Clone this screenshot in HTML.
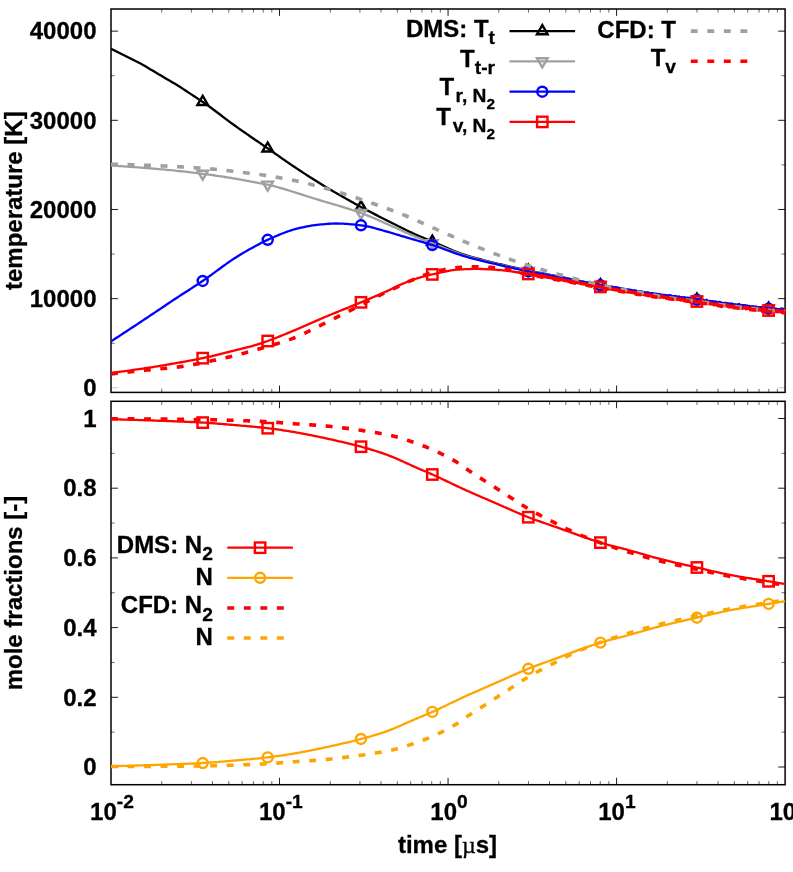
<!DOCTYPE html>
<html><head><meta charset="utf-8"><title>plot</title>
<style>html,body{margin:0;padding:0;background:#fff;overflow:hidden}svg{display:block;will-change:transform}text{font-family:"Liberation Sans",sans-serif;font-weight:bold;font-size:24px;fill:#000;stroke:#000;stroke-width:0.3px}</style></head><body>
<svg width="793" height="872" viewBox="0 0 793 872">
<rect width="793" height="872" fill="#fff"/>
<defs>
<clipPath id="c1"><rect x="111.00" y="9.00" width="675.30" height="383.40"/></clipPath>
<clipPath id="c2"><rect x="111.00" y="401.30" width="675.30" height="383.40"/></clipPath>
</defs>
<g id="top">
<path d="M161.73 392.40 v-3.6 M161.73 9.00 v3.6" stroke="#000" stroke-width="0.85" opacity="0.7"/>
<path d="M191.41 392.40 v-3.6 M191.41 9.00 v3.6" stroke="#000" stroke-width="0.85" opacity="0.7"/>
<path d="M212.46 392.40 v-3.6 M212.46 9.00 v3.6" stroke="#000" stroke-width="0.85" opacity="0.7"/>
<path d="M228.79 392.40 v-3.6 M228.79 9.00 v3.6" stroke="#000" stroke-width="0.85" opacity="0.7"/>
<path d="M242.14 392.40 v-3.6 M242.14 9.00 v3.6" stroke="#000" stroke-width="0.85" opacity="0.7"/>
<path d="M253.42 392.40 v-3.6 M253.42 9.00 v3.6" stroke="#000" stroke-width="0.85" opacity="0.7"/>
<path d="M263.19 392.40 v-3.6 M263.19 9.00 v3.6" stroke="#000" stroke-width="0.85" opacity="0.7"/>
<path d="M271.81 392.40 v-3.6 M271.81 9.00 v3.6" stroke="#000" stroke-width="0.85" opacity="0.7"/>
<path d="M279.52 392.40 v-6.9 M279.52 9.00 v6.9" stroke="#000" stroke-width="0.9"/>
<path d="M330.26 392.40 v-3.6 M330.26 9.00 v3.6" stroke="#000" stroke-width="0.85" opacity="0.7"/>
<path d="M359.93 392.40 v-3.6 M359.93 9.00 v3.6" stroke="#000" stroke-width="0.85" opacity="0.7"/>
<path d="M380.99 392.40 v-3.6 M380.99 9.00 v3.6" stroke="#000" stroke-width="0.85" opacity="0.7"/>
<path d="M397.32 392.40 v-3.6 M397.32 9.00 v3.6" stroke="#000" stroke-width="0.85" opacity="0.7"/>
<path d="M410.66 392.40 v-3.6 M410.66 9.00 v3.6" stroke="#000" stroke-width="0.85" opacity="0.7"/>
<path d="M421.95 392.40 v-3.6 M421.95 9.00 v3.6" stroke="#000" stroke-width="0.85" opacity="0.7"/>
<path d="M431.72 392.40 v-3.6 M431.72 9.00 v3.6" stroke="#000" stroke-width="0.85" opacity="0.7"/>
<path d="M440.34 392.40 v-3.6 M440.34 9.00 v3.6" stroke="#000" stroke-width="0.85" opacity="0.7"/>
<path d="M448.05 392.40 v-6.9 M448.05 9.00 v6.9" stroke="#000" stroke-width="0.9"/>
<path d="M498.78 392.40 v-3.6 M498.78 9.00 v3.6" stroke="#000" stroke-width="0.85" opacity="0.7"/>
<path d="M528.46 392.40 v-3.6 M528.46 9.00 v3.6" stroke="#000" stroke-width="0.85" opacity="0.7"/>
<path d="M549.51 392.40 v-3.6 M549.51 9.00 v3.6" stroke="#000" stroke-width="0.85" opacity="0.7"/>
<path d="M565.84 392.40 v-3.6 M565.84 9.00 v3.6" stroke="#000" stroke-width="0.85" opacity="0.7"/>
<path d="M579.19 392.40 v-3.6 M579.19 9.00 v3.6" stroke="#000" stroke-width="0.85" opacity="0.7"/>
<path d="M590.47 392.40 v-3.6 M590.47 9.00 v3.6" stroke="#000" stroke-width="0.85" opacity="0.7"/>
<path d="M600.24 392.40 v-3.6 M600.24 9.00 v3.6" stroke="#000" stroke-width="0.85" opacity="0.7"/>
<path d="M608.86 392.40 v-3.6 M608.86 9.00 v3.6" stroke="#000" stroke-width="0.85" opacity="0.7"/>
<path d="M616.58 392.40 v-6.9 M616.58 9.00 v6.9" stroke="#000" stroke-width="0.9"/>
<path d="M667.31 392.40 v-3.6 M667.31 9.00 v3.6" stroke="#000" stroke-width="0.85" opacity="0.7"/>
<path d="M696.98 392.40 v-3.6 M696.98 9.00 v3.6" stroke="#000" stroke-width="0.85" opacity="0.7"/>
<path d="M718.04 392.40 v-3.6 M718.04 9.00 v3.6" stroke="#000" stroke-width="0.85" opacity="0.7"/>
<path d="M734.37 392.40 v-3.6 M734.37 9.00 v3.6" stroke="#000" stroke-width="0.85" opacity="0.7"/>
<path d="M747.71 392.40 v-3.6 M747.71 9.00 v3.6" stroke="#000" stroke-width="0.85" opacity="0.7"/>
<path d="M759.00 392.40 v-3.6 M759.00 9.00 v3.6" stroke="#000" stroke-width="0.85" opacity="0.7"/>
<path d="M768.77 392.40 v-3.6 M768.77 9.00 v3.6" stroke="#000" stroke-width="0.85" opacity="0.7"/>
<path d="M777.39 392.40 v-3.6 M777.39 9.00 v3.6" stroke="#000" stroke-width="0.85" opacity="0.7"/>
<path d="M111.00 387.80 h6.9 M785.10 387.80 h-6.9" stroke="#000" stroke-width="0.9" opacity="0.25"/>
<path d="M111.00 298.64 h6.9 M785.10 298.64 h-6.9" stroke="#000" stroke-width="0.9"/>
<path d="M111.00 209.47 h6.9 M785.10 209.47 h-6.9" stroke="#000" stroke-width="0.9"/>
<path d="M111.00 120.31 h6.9 M785.10 120.31 h-6.9" stroke="#000" stroke-width="0.9"/>
<path d="M111.00 31.15 h6.9 M785.10 31.15 h-6.9" stroke="#000" stroke-width="0.9"/>
<path d="M111.00 343.22 h3.6 M785.10 343.22 h-3.6" stroke="#000" stroke-width="0.85" opacity="0.7"/>
<path d="M111.00 254.06 h3.6 M785.10 254.06 h-3.6" stroke="#000" stroke-width="0.85" opacity="0.7"/>
<path d="M111.00 164.89 h3.6 M785.10 164.89 h-3.6" stroke="#000" stroke-width="0.85" opacity="0.7"/>
<path d="M111.00 75.73 h3.6 M785.10 75.73 h-3.6" stroke="#000" stroke-width="0.85" opacity="0.7"/>
<rect x="111.00" y="9.00" width="674.10" height="383.40" fill="none" stroke="#000" stroke-width="1.5"/>
<path d="M111.00 48.70 L113.00 49.71 L115.00 50.71 L117.00 51.72 L119.00 52.73 L121.00 53.73 L123.00 54.74 L125.00 55.75 L127.00 56.75 L129.00 57.76 L131.00 58.77 L133.00 59.77 L135.00 60.78 L137.00 61.77 L139.00 62.76 L141.00 63.79 L143.00 64.90 L145.00 66.08 L147.00 67.30 L149.00 68.49 L151.00 69.68 L153.00 70.86 L155.00 72.04 L157.00 73.23 L159.00 74.41 L161.00 75.59 L163.00 76.77 L165.00 77.96 L167.00 79.14 L169.00 80.32 L171.00 81.51 L173.00 82.68 L175.00 83.84 L177.00 85.02 L179.00 86.25 L181.00 87.56 L183.00 88.90 L185.00 90.21 L187.00 91.53 L189.00 92.85 L191.00 94.16 L193.00 95.48 L195.00 96.80 L197.00 98.11 L199.00 99.42 L201.00 100.73 L203.00 102.08 L205.00 103.47 L207.00 104.89 L209.00 106.33 L211.00 107.79 L213.00 109.27 L215.00 110.77 L217.00 112.27 L219.00 113.78 L221.00 115.29 L223.00 116.81 L225.00 118.32 L227.00 119.83 L229.00 121.33 L231.00 122.82 L233.00 124.29 L235.00 125.74 L237.00 127.17 L239.00 128.59 L241.00 130.00 L243.00 131.40 L245.00 132.79 L247.00 134.18 L249.00 135.56 L251.00 136.93 L253.00 138.30 L255.00 139.68 L257.00 141.05 L259.00 142.41 L261.00 143.79 L263.00 145.16 L265.00 146.53 L267.00 147.92 L269.00 149.30 L271.00 150.70 L273.00 152.10 L275.00 153.50 L277.00 154.91 L279.00 156.31 L281.00 157.71 L283.00 159.12 L285.00 160.51 L287.00 161.90 L289.00 163.27 L291.00 164.64 L293.00 166.00 L295.00 167.33 L297.00 168.66 L299.00 169.98 L301.00 171.29 L303.00 172.60 L305.00 173.90 L307.00 175.19 L309.00 176.48 L311.00 177.75 L313.00 179.02 L315.00 180.28 L317.00 181.53 L319.00 182.77 L321.00 184.00 L323.00 185.23 L325.00 186.44 L327.00 187.64 L329.00 188.83 L331.00 190.02 L333.00 191.20 L335.00 192.37 L337.00 193.53 L339.00 194.69 L341.00 195.83 L343.00 196.97 L345.00 198.11 L347.00 199.24 L349.00 200.36 L351.00 201.47 L353.00 202.58 L355.00 203.68 L357.00 204.78 L359.00 205.87 L361.00 206.95 L363.00 208.03 L365.00 209.10 L367.00 210.17 L369.00 211.22 L371.00 212.28 L373.00 213.32 L375.00 214.36 L377.00 215.39 L379.00 216.42 L381.00 217.45 L383.00 218.47 L385.00 219.48 L387.00 220.49 L389.00 221.50 L391.00 222.50 L393.00 223.50 L395.00 224.50 L397.00 225.50 L399.00 226.49 L401.00 227.49 L403.00 228.48 L405.00 229.47 L407.00 230.44 L409.00 231.41 L411.00 232.36 L413.00 233.29 L415.00 234.20 L417.00 235.09 L419.00 235.96 L421.00 236.81 L423.00 237.65 L425.00 238.48 L427.00 239.31 L429.00 240.13 L431.00 240.96 L433.00 241.79 L435.00 242.64 L437.00 243.50 L439.00 244.37 L441.00 245.25 L443.00 246.13 L445.00 247.01 L447.00 247.88 L449.00 248.75 L451.00 249.60 L453.00 250.44 L455.00 251.26 L457.00 252.05 L459.00 252.82 L461.00 253.56 L463.00 254.26 L465.00 254.93 L467.00 255.57 L469.00 256.18 L471.00 256.77 L473.00 257.33 L475.00 257.89 L477.00 258.43 L479.00 258.95 L481.00 259.47 L483.00 259.99 L485.00 260.50 L487.00 261.02 L489.00 261.54 L491.00 262.04 L493.00 262.55 L495.00 263.04 L497.00 263.53 L499.00 264.01 L501.00 264.49 L503.00 264.96 L505.00 265.43 L507.00 265.89 L509.00 266.35 L511.00 266.80 L513.00 267.24 L515.00 267.68 L517.00 268.11 L519.00 268.54 L521.00 268.97 L523.00 269.40 L525.00 269.82 L527.00 270.24 L529.00 270.66 L531.00 271.07 L533.00 271.48 L535.00 271.89 L537.00 272.29 L539.00 272.70 L541.00 273.10 L543.00 273.50 L545.00 273.90 L547.00 274.29 L549.00 274.68 L551.00 275.08 L553.00 275.47 L555.00 275.86 L557.00 276.25 L559.00 276.64 L561.00 277.04 L563.00 277.44 L565.00 277.84 L567.00 278.25 L569.00 278.66 L571.00 279.08 L573.00 279.50 L575.00 279.92 L577.00 280.35 L579.00 280.77 L581.00 281.20 L583.00 281.62 L585.00 282.03 L587.00 282.44 L589.00 282.85 L591.00 283.24 L593.00 283.63 L595.00 284.01 L597.00 284.38 L599.00 284.75 L601.00 285.11 L603.00 285.46 L605.00 285.82 L607.00 286.17 L609.00 286.53 L611.00 286.88 L613.00 287.23 L615.00 287.58 L617.00 287.93 L619.00 288.28 L621.00 288.63 L623.00 288.97 L625.00 289.31 L627.00 289.65 L629.00 289.98 L631.00 290.32 L633.00 290.65 L635.00 290.98 L637.00 291.30 L639.00 291.62 L641.00 291.94 L643.00 292.25 L645.00 292.56 L647.00 292.86 L649.00 293.16 L651.00 293.46 L653.00 293.75 L655.00 294.04 L657.00 294.31 L659.00 294.59 L661.00 294.86 L663.00 295.13 L665.00 295.39 L667.00 295.65 L669.00 295.91 L671.00 296.16 L673.00 296.42 L675.00 296.67 L677.00 296.92 L679.00 297.17 L681.00 297.43 L683.00 297.68 L685.00 297.93 L687.00 298.19 L689.00 298.45 L691.00 298.71 L693.00 298.97 L695.00 299.24 L697.00 299.51 L699.00 299.79 L701.00 300.07 L703.00 300.35 L705.00 300.64 L707.00 300.94 L709.00 301.23 L711.00 301.53 L713.00 301.82 L715.00 302.11 L717.00 302.40 L719.00 302.69 L721.00 302.97 L723.00 303.25 L725.00 303.53 L727.00 303.79 L729.00 304.05 L731.00 304.30 L733.00 304.54 L735.00 304.79 L737.00 305.03 L739.00 305.26 L741.00 305.50 L743.00 305.73 L745.00 305.96 L747.00 306.19 L749.00 306.41 L751.00 306.64 L753.00 306.85 L755.00 307.07 L757.00 307.28 L759.00 307.48 L761.00 307.68 L763.00 307.88 L765.00 308.08 L767.00 308.27 L769.00 308.45 L771.00 308.64 L773.00 308.81 L775.00 308.98 L777.00 309.15 L779.00 309.31 L781.00 309.47 L783.00 309.62 L785.00 309.77 L785.10 309.78" fill="none" stroke="#000000" stroke-width="2.3" stroke-linejoin="round" clip-path="url(#c1)"/>
<path d="M202.70 95.97 L208.00 104.97 L197.40 104.97 Z" fill="none" stroke="#000000" stroke-width="2.4" stroke-linejoin="miter"/>
<path d="M267.70 142.50 L273.00 151.50 L262.40 151.50 Z" fill="none" stroke="#000000" stroke-width="2.4" stroke-linejoin="miter"/>
<path d="M361.00 201.05 L366.30 210.05 L355.70 210.05 Z" fill="none" stroke="#000000" stroke-width="2.4" stroke-linejoin="miter"/>
<path d="M432.30 235.60 L437.60 244.60 L427.00 244.60 Z" fill="none" stroke="#000000" stroke-width="2.4" stroke-linejoin="miter"/>
<path d="M528.30 264.61 L533.60 273.61 L523.00 273.61 Z" fill="none" stroke="#000000" stroke-width="2.4" stroke-linejoin="miter"/>
<path d="M600.40 279.10 L605.70 288.10 L595.10 288.10 Z" fill="none" stroke="#000000" stroke-width="2.4" stroke-linejoin="miter"/>
<path d="M696.90 293.60 L702.20 302.60 L691.60 302.60 Z" fill="none" stroke="#000000" stroke-width="2.4" stroke-linejoin="miter"/>
<path d="M768.60 302.52 L773.90 311.52 L763.30 311.52 Z" fill="none" stroke="#000000" stroke-width="2.4" stroke-linejoin="miter"/>
<path d="M111.00 165.60 L113.00 165.71 L115.00 165.83 L117.00 165.95 L119.00 166.07 L121.00 166.20 L123.00 166.32 L125.00 166.46 L127.00 166.59 L129.00 166.73 L131.00 166.87 L133.00 167.02 L135.00 167.16 L137.00 167.31 L139.00 167.47 L141.00 167.62 L143.00 167.78 L145.00 167.94 L147.00 168.10 L149.00 168.26 L151.00 168.43 L153.00 168.60 L155.00 168.77 L157.00 168.94 L159.00 169.11 L161.00 169.29 L163.00 169.47 L165.00 169.65 L167.00 169.84 L169.00 170.03 L171.00 170.22 L173.00 170.42 L175.00 170.63 L177.00 170.83 L179.00 171.04 L181.00 171.26 L183.00 171.47 L185.00 171.69 L187.00 171.92 L189.00 172.15 L191.00 172.38 L193.00 172.61 L195.00 172.85 L197.00 173.09 L199.00 173.34 L201.00 173.59 L203.00 173.84 L205.00 174.10 L207.00 174.36 L209.00 174.64 L211.00 174.91 L213.00 175.20 L215.00 175.49 L217.00 175.78 L219.00 176.08 L221.00 176.39 L223.00 176.70 L225.00 177.01 L227.00 177.33 L229.00 177.65 L231.00 177.97 L233.00 178.30 L235.00 178.63 L237.00 178.97 L239.00 179.31 L241.00 179.67 L243.00 180.04 L245.00 180.41 L247.00 180.79 L249.00 181.17 L251.00 181.55 L253.00 181.92 L255.00 182.30 L257.00 182.67 L259.00 183.02 L261.00 183.38 L263.00 183.75 L265.00 184.13 L267.00 184.55 L269.00 184.99 L271.00 185.46 L273.00 185.95 L275.00 186.47 L277.00 187.00 L279.00 187.55 L281.00 188.11 L283.00 188.69 L285.00 189.28 L287.00 189.88 L289.00 190.50 L291.00 191.12 L293.00 191.75 L295.00 192.39 L297.00 193.03 L299.00 193.67 L301.00 194.31 L303.00 194.96 L305.00 195.60 L307.00 196.24 L309.00 196.88 L311.00 197.51 L313.00 198.13 L315.00 198.75 L317.00 199.35 L319.00 199.95 L321.00 200.55 L323.00 201.14 L325.00 201.73 L327.00 202.32 L329.00 202.90 L331.00 203.49 L333.00 204.08 L335.00 204.67 L337.00 205.26 L339.00 205.86 L341.00 206.46 L343.00 207.07 L345.00 207.69 L347.00 208.32 L349.00 208.95 L351.00 209.60 L353.00 210.26 L355.00 210.93 L357.00 211.62 L359.00 212.32 L361.00 213.04 L363.00 213.78 L365.00 214.54 L367.00 215.32 L369.00 216.13 L371.00 216.96 L373.00 217.80 L375.00 218.65 L377.00 219.52 L379.00 220.40 L381.00 221.29 L383.00 222.18 L385.00 223.08 L387.00 223.98 L389.00 224.88 L391.00 225.78 L393.00 226.68 L395.00 227.57 L397.00 228.45 L399.00 229.36 L401.00 230.28 L403.00 231.20 L405.00 232.14 L407.00 233.06 L409.00 233.98 L411.00 234.88 L413.00 235.76 L415.00 236.60 L417.00 237.41 L419.00 238.20 L421.00 238.97 L423.00 239.73 L425.00 240.47 L427.00 241.21 L429.00 241.96 L431.00 242.71 L433.00 243.47 L435.00 244.24 L437.00 245.03 L439.00 245.83 L441.00 246.63 L443.00 247.44 L445.00 248.25 L447.00 249.05 L449.00 249.85 L451.00 250.64 L453.00 251.41 L455.00 252.17 L457.00 252.91 L459.00 253.63 L461.00 254.33 L463.00 254.99 L465.00 255.62 L467.00 256.23 L469.00 256.82 L471.00 257.38 L473.00 257.93 L475.00 258.46 L477.00 258.98 L479.00 259.50 L481.00 260.01 L483.00 260.51 L485.00 261.02 L487.00 261.52 L489.00 262.03 L491.00 262.54 L493.00 263.04 L495.00 263.54 L497.00 264.03 L499.00 264.52 L501.00 265.00 L503.00 265.47 L505.00 265.93 L507.00 266.39 L509.00 266.83 L511.00 267.27 L513.00 267.70 L515.00 268.13 L517.00 268.55 L519.00 268.97 L521.00 269.39 L523.00 269.80 L525.00 270.21 L527.00 270.62 L529.00 271.02 L531.00 271.42 L533.00 271.82 L535.00 272.21 L537.00 272.61 L539.00 273.00 L541.00 273.40 L543.00 273.79 L545.00 274.17 L547.00 274.56 L549.00 274.94 L551.00 275.32 L553.00 275.71 L555.00 276.09 L557.00 276.47 L559.00 276.86 L561.00 277.25 L563.00 277.64 L565.00 278.04 L567.00 278.44 L569.00 278.85 L571.00 279.27 L573.00 279.69 L575.00 280.11 L577.00 280.54 L579.00 280.97 L581.00 281.39 L583.00 281.81 L585.00 282.23 L587.00 282.64 L589.00 283.05 L591.00 283.44 L593.00 283.83 L595.00 284.21 L597.00 284.58 L599.00 284.95 L601.00 285.31 L603.00 285.66 L605.00 286.02 L607.00 286.37 L609.00 286.73 L611.00 287.08 L613.00 287.43 L615.00 287.78 L617.00 288.13 L619.00 288.48 L621.00 288.83 L623.00 289.17 L625.00 289.51 L627.00 289.85 L629.00 290.18 L631.00 290.52 L633.00 290.85 L635.00 291.18 L637.00 291.50 L639.00 291.82 L641.00 292.14 L643.00 292.45 L645.00 292.76 L647.00 293.06 L649.00 293.36 L651.00 293.66 L653.00 293.95 L655.00 294.24 L657.00 294.51 L659.00 294.79 L661.00 295.06 L663.00 295.33 L665.00 295.59 L667.00 295.85 L669.00 296.11 L671.00 296.36 L673.00 296.62 L675.00 296.87 L677.00 297.12 L679.00 297.37 L681.00 297.63 L683.00 297.88 L685.00 298.13 L687.00 298.39 L689.00 298.65 L691.00 298.91 L693.00 299.17 L695.00 299.44 L697.00 299.71 L699.00 299.99 L701.00 300.27 L703.00 300.55 L705.00 300.84 L707.00 301.14 L709.00 301.43 L711.00 301.73 L713.00 302.02 L715.00 302.31 L717.00 302.60 L719.00 302.89 L721.00 303.17 L723.00 303.45 L725.00 303.73 L727.00 303.99 L729.00 304.25 L731.00 304.50 L733.00 304.74 L735.00 304.99 L737.00 305.23 L739.00 305.46 L741.00 305.70 L743.00 305.93 L745.00 306.16 L747.00 306.39 L749.00 306.61 L751.00 306.84 L753.00 307.05 L755.00 307.27 L757.00 307.48 L759.00 307.68 L761.00 307.88 L763.00 308.08 L765.00 308.28 L767.00 308.47 L769.00 308.65 L771.00 308.84 L773.00 309.01 L775.00 309.18 L777.00 309.35 L779.00 309.51 L781.00 309.67 L783.00 309.82 L785.00 309.97 L785.10 309.98" fill="none" stroke="#a0a0a0" stroke-width="2.3" stroke-linejoin="round" clip-path="url(#c1)"/>
<path d="M202.70 179.70 L208.00 170.70 L197.40 170.70 Z" fill="none" stroke="#a0a0a0" stroke-width="2.4" stroke-linejoin="miter"/>
<path d="M267.70 190.60 L273.00 181.60 L262.40 181.60 Z" fill="none" stroke="#a0a0a0" stroke-width="2.4" stroke-linejoin="miter"/>
<path d="M361.00 218.94 L366.30 209.94 L355.70 209.94 Z" fill="none" stroke="#a0a0a0" stroke-width="2.4" stroke-linejoin="miter"/>
<path d="M432.30 249.10 L437.60 240.10 L427.00 240.10 Z" fill="none" stroke="#a0a0a0" stroke-width="2.4" stroke-linejoin="miter"/>
<path d="M528.30 276.78 L533.60 267.78 L523.00 267.78 Z" fill="none" stroke="#a0a0a0" stroke-width="2.4" stroke-linejoin="miter"/>
<path d="M600.40 291.10 L605.70 282.10 L595.10 282.10 Z" fill="none" stroke="#a0a0a0" stroke-width="2.4" stroke-linejoin="miter"/>
<path d="M696.90 305.60 L702.20 296.60 L691.60 296.60 Z" fill="none" stroke="#a0a0a0" stroke-width="2.4" stroke-linejoin="miter"/>
<path d="M768.60 314.52 L773.90 305.52 L763.30 305.52 Z" fill="none" stroke="#a0a0a0" stroke-width="2.4" stroke-linejoin="miter"/>
<path d="M111.00 341.40 L113.00 340.10 L115.00 338.79 L117.00 337.49 L119.00 336.18 L121.00 334.87 L123.00 333.56 L125.00 332.25 L127.00 330.94 L129.00 329.63 L131.00 328.31 L133.00 327.00 L135.00 325.68 L137.00 324.36 L139.00 323.04 L141.00 321.71 L143.00 320.39 L145.00 319.07 L147.00 317.74 L149.00 316.41 L151.00 315.07 L153.00 313.73 L155.00 312.39 L157.00 311.04 L159.00 309.70 L161.00 308.35 L163.00 307.01 L165.00 305.67 L167.00 304.32 L169.00 302.99 L171.00 301.65 L173.00 300.32 L175.00 299.00 L177.00 297.68 L179.00 296.37 L181.00 295.07 L183.00 293.78 L185.00 292.49 L187.00 291.21 L189.00 289.92 L191.00 288.63 L193.00 287.34 L195.00 286.04 L197.00 284.73 L199.00 283.41 L201.00 282.08 L203.00 280.73 L205.00 279.36 L207.00 277.96 L209.00 276.53 L211.00 275.09 L213.00 273.63 L215.00 272.16 L217.00 270.69 L219.00 269.21 L221.00 267.74 L223.00 266.28 L225.00 264.83 L227.00 263.41 L229.00 262.00 L231.00 260.62 L233.00 259.28 L235.00 257.97 L237.00 256.70 L239.00 255.46 L241.00 254.24 L243.00 253.05 L245.00 251.88 L247.00 250.74 L249.00 249.60 L251.00 248.49 L253.00 247.39 L255.00 246.30 L257.00 245.22 L259.00 244.14 L261.00 243.08 L263.00 242.05 L265.00 241.06 L267.00 240.12 L269.00 239.22 L271.00 238.32 L273.00 237.43 L275.00 236.55 L277.00 235.69 L279.00 234.84 L281.00 234.02 L283.00 233.22 L285.00 232.45 L287.00 231.71 L289.00 231.02 L291.00 230.36 L293.00 229.76 L295.00 229.20 L297.00 228.69 L299.00 228.19 L301.00 227.72 L303.00 227.26 L305.00 226.83 L307.00 226.43 L309.00 226.05 L311.00 225.72 L313.00 225.42 L315.00 225.16 L317.00 224.93 L319.00 224.70 L321.00 224.48 L323.00 224.27 L325.00 224.07 L327.00 223.89 L329.00 223.74 L331.00 223.62 L333.00 223.54 L335.00 223.50 L337.00 223.51 L339.00 223.54 L341.00 223.61 L343.00 223.70 L345.00 223.82 L347.00 223.95 L349.00 224.11 L351.00 224.28 L353.00 224.47 L355.00 224.67 L357.00 224.88 L359.00 225.09 L361.00 225.31 L363.00 225.57 L365.00 225.90 L367.00 226.28 L369.00 226.71 L371.00 227.19 L373.00 227.70 L375.00 228.24 L377.00 228.80 L379.00 229.37 L381.00 229.94 L383.00 230.51 L385.00 231.07 L387.00 231.62 L389.00 232.18 L391.00 232.77 L393.00 233.37 L395.00 233.99 L397.00 234.60 L399.00 235.20 L401.00 235.79 L403.00 236.38 L405.00 236.97 L407.00 237.56 L409.00 238.14 L411.00 238.73 L413.00 239.31 L415.00 239.90 L417.00 240.48 L419.00 241.06 L421.00 241.64 L423.00 242.21 L425.00 242.79 L427.00 243.38 L429.00 243.98 L431.00 244.59 L433.00 245.22 L435.00 245.88 L437.00 246.57 L439.00 247.27 L441.00 247.99 L443.00 248.72 L445.00 249.46 L447.00 250.21 L449.00 250.95 L451.00 251.69 L453.00 252.43 L455.00 253.15 L457.00 253.85 L459.00 254.53 L461.00 255.19 L463.00 255.82 L465.00 256.42 L467.00 256.99 L469.00 257.54 L471.00 258.07 L473.00 258.59 L475.00 259.10 L477.00 259.59 L479.00 260.08 L481.00 260.57 L483.00 261.05 L485.00 261.54 L487.00 262.03 L489.00 262.52 L491.00 263.01 L493.00 263.50 L495.00 263.98 L497.00 264.46 L499.00 264.94 L501.00 265.41 L503.00 265.88 L505.00 266.33 L507.00 266.78 L509.00 267.23 L511.00 267.67 L513.00 268.10 L515.00 268.53 L517.00 268.96 L519.00 269.38 L521.00 269.79 L523.00 270.20 L525.00 270.60 L527.00 271.00 L529.00 271.39 L531.00 271.78 L533.00 272.16 L535.00 272.54 L537.00 272.93 L539.00 273.31 L541.00 273.69 L543.00 274.07 L545.00 274.45 L547.00 274.83 L549.00 275.20 L551.00 275.58 L553.00 275.95 L555.00 276.33 L557.00 276.70 L559.00 277.08 L561.00 277.47 L563.00 277.85 L565.00 278.24 L567.00 278.64 L569.00 279.04 L571.00 279.45 L573.00 279.86 L575.00 280.27 L577.00 280.69 L579.00 281.11 L580.00 281.31 L580.12 281.34 L580.24 281.36 L580.36 281.39 L580.48 281.41 L580.60 281.45 L580.72 281.46 L580.84 281.50 L580.96 281.52 L581.08 281.52 L581.20 281.57 L581.32 281.58 L581.44 281.63 L581.56 281.64 L581.68 281.66 L581.80 281.71 L581.92 281.68 L582.04 281.74 L582.16 281.75 L582.28 281.75 L582.40 281.83 L582.52 281.84 L582.64 281.90 L582.76 281.89 L582.88 281.89 L583.00 281.99 L583.12 281.92 L583.24 281.93 L583.36 282.04 L583.48 282.02 L583.60 282.04 L583.72 282.13 L583.84 282.08 L583.96 282.19 L584.08 282.18 L584.20 282.16 L584.32 282.14 L584.44 282.19 L584.56 282.33 L584.68 282.26 L584.80 282.25 L584.92 282.29 L585.04 282.42 L585.16 282.32 L585.28 282.45 L585.40 282.36 L585.52 282.54 L585.64 282.48 L585.76 282.41 L585.88 282.61 L586.00 282.52 L586.12 282.62 L586.24 282.60 L586.36 282.53 L586.48 282.56 L586.60 282.59 L586.72 282.62 L586.84 282.61 L586.96 282.63 L587.08 282.88 L587.20 282.69 L587.32 282.82 L587.44 282.74 L587.56 282.79 L587.68 282.96 L587.80 283.03 L587.92 282.93 L588.04 282.82 L588.16 283.13 L588.28 282.88 L588.40 283.00 L588.52 283.07 L588.64 283.20 L588.76 283.20 L588.88 283.16 L589.00 283.12 L589.12 283.28 L589.24 283.32 L589.36 283.34 L589.48 283.32 L589.60 283.14 L589.72 283.23 L589.84 283.31 L589.96 283.34 L590.08 283.48 L590.20 283.29 L590.32 283.47 L590.44 283.39 L590.56 283.56 L590.68 283.37 L590.80 283.50 L590.92 283.38 L591.04 283.44 L591.16 283.75 L591.28 283.53 L591.40 283.78 L591.52 283.66 L591.64 283.48 L591.76 283.81 L591.88 283.53 L592.00 283.88 L592.12 283.55 L592.24 283.86 L592.36 283.66 L592.48 283.76 L592.60 284.05 L592.72 283.87 L592.84 283.97 L592.96 284.03 L593.08 283.77 L593.20 284.13 L593.32 284.18 L593.44 283.85 L593.56 284.06 L593.68 283.96 L593.80 284.20 L593.92 283.88 L594.04 284.13 L594.16 284.30 L594.28 284.29 L594.40 284.00 L594.52 284.39 L594.64 284.11 L594.76 284.42 L594.88 284.29 L595.00 284.13 L595.12 284.46 L595.24 284.52 L595.36 284.48 L595.48 284.65 L595.60 284.29 L595.72 284.30 L595.84 284.27 L595.96 284.51 L596.08 284.45 L596.20 284.45 L596.32 284.53 L596.44 284.44 L596.56 284.31 L596.68 284.60 L596.80 284.50 L596.92 284.64 L597.04 284.95 L597.16 284.52 L597.28 284.82 L597.40 284.85 L597.52 284.65 L597.64 284.78 L597.76 285.12 L597.88 284.74 L598.00 285.00 L598.12 285.10 L598.24 284.82 L598.36 285.25 L598.48 285.04 L598.60 284.98 L598.72 285.14 L598.84 284.99 L598.96 285.21 L599.08 284.94 L599.20 285.40 L599.32 285.14 L599.44 284.95 L599.56 285.11 L599.68 285.44 L599.80 285.40 L599.92 285.20 L600.04 285.12 L600.16 285.16 L600.28 285.63 L600.40 285.04 L600.52 285.62 L600.64 285.62 L600.76 285.13 L600.88 285.24 L601.00 285.42 L601.12 285.62 L601.24 285.80 L601.36 285.85 L601.48 285.34 L601.60 285.30 L601.72 285.51 L601.84 285.58 L601.96 285.68 L602.08 285.28 L602.20 285.71 L602.32 285.95 L602.44 285.97 L602.56 286.01 L602.68 286.04 L602.80 286.10 L602.92 285.39 L603.04 286.11 L603.16 285.65 L603.28 285.71 L603.40 285.85 L603.52 286.28 L603.64 285.94 L603.76 285.75 L603.88 285.79 L604.00 286.26 L604.12 286.26 L604.24 285.71 L604.36 285.82 L604.48 285.95 L604.60 285.82 L604.72 286.14 L604.84 285.86 L604.96 286.19 L605.08 286.47 L605.20 286.41 L605.32 285.77 L605.44 285.89 L605.56 286.17 L605.68 286.40 L605.80 286.19 L605.92 286.09 L606.04 286.13 L606.16 286.02 L606.28 286.65 L606.40 286.52 L606.52 286.25 L606.64 286.54 L606.76 286.39 L606.88 286.42 L607.00 286.32 L607.12 286.45 L607.24 286.95 L607.36 286.78 L607.48 286.84 L607.60 286.19 L607.72 286.57 L607.84 286.46 L607.96 286.27 L608.08 286.59 L608.20 286.29 L608.32 286.47 L608.44 286.99 L608.56 286.90 L608.68 286.94 L608.80 286.34 L608.92 286.54 L609.04 286.42 L609.16 286.52 L609.28 286.54 L609.40 287.38 L609.52 287.34 L609.64 286.65 L609.76 286.72 L609.88 287.43 L610.00 287.04 L610.12 286.85 L610.24 286.98 L610.36 286.78 L610.48 287.14 L610.60 287.31 L610.72 287.10 L610.84 287.51 L610.96 286.77 L611.08 287.32 L611.20 287.76 L611.32 286.74 L611.44 287.14 L611.56 287.31 L611.68 287.01 L611.80 287.72 L611.92 287.20 L612.04 287.22 L612.16 287.71 L612.28 286.81 L612.40 287.80 L612.52 286.98 L612.64 287.28 L612.76 287.52 L612.88 287.52 L613.00 287.04 L613.12 287.38 L613.24 287.42 L613.36 288.14 L613.48 288.12 L613.60 287.75 L613.72 288.17 L613.84 288.11 L613.96 287.56 L614.08 287.27 L614.20 287.86 L614.32 287.54 L614.44 287.18 L614.56 288.38 L614.68 288.25 L614.80 287.75 L614.92 287.87 L615.04 287.95 L615.16 288.42 L615.28 287.87 L615.40 288.03 L615.52 287.61 L615.64 287.55 L615.76 287.92 L615.88 287.57 L616.00 287.34 L616.12 287.97 L616.24 288.48 L616.36 287.90 L616.48 288.67 L616.60 288.42 L616.72 288.38 L616.84 288.71 L616.96 287.67 L617.08 287.82 L617.20 288.79 L617.32 288.81 L617.44 287.75 L617.56 288.72 L617.68 287.74 L617.80 287.92 L617.92 287.91 L618.04 288.16 L618.16 288.31 L618.28 289.03 L618.40 288.42 L618.52 288.01 L618.64 288.23 L618.76 287.89 L618.88 287.94 L619.00 288.51 L619.12 288.65 L619.24 288.31 L619.36 288.51 L619.48 288.07 L619.60 288.86 L619.72 288.51 L619.84 288.20 L619.96 288.63 L620.08 288.25 L620.20 288.38 L620.32 288.17 L620.44 289.25 L620.56 288.57 L620.68 289.54 L620.80 288.79 L620.92 288.55 L621.04 289.35 L621.16 289.41 L621.28 289.63 L621.40 288.57 L621.52 289.51 L621.64 289.63 L621.76 288.87 L621.88 288.99 L622.00 289.25 L622.12 288.74 L622.24 289.64 L622.36 289.49 L622.48 289.74 L622.60 289.19 L622.72 289.30 L622.84 288.77 L622.96 288.96 L623.08 289.56 L623.20 289.90 L623.32 288.87 L623.44 288.75 L623.56 288.80 L623.68 289.33 L623.80 289.76 L623.92 288.98 L624.04 289.36 L624.16 289.43 L624.28 289.97 L624.40 289.05 L624.52 288.86 L624.64 289.57 L624.76 289.57 L624.88 289.50 L625.00 290.19 L625.12 290.09 L625.24 289.15 L625.36 289.82 L625.48 290.19 L625.60 290.36 L625.72 289.19 L625.84 290.34 L625.96 289.29 L626.08 290.20 L626.20 289.87 L626.32 290.39 L626.44 289.96 L626.56 289.19 L626.68 290.06 L626.80 289.50 L626.92 290.33 L627.04 289.23 L627.16 289.73 L627.28 290.24 L627.40 289.53 L627.52 290.24 L627.64 290.39 L627.76 290.46 L627.88 290.68 L628.00 290.06 L628.12 289.61 L628.24 289.80 L628.36 290.00 L628.48 289.55 L628.60 290.62 L628.72 289.74 L628.84 289.75 L628.96 291.00 L629.08 290.66 L629.20 289.91 L629.32 290.05 L629.44 290.75 L629.56 290.70 L629.68 290.23 L629.80 290.50 L629.92 291.09 L630.04 289.87 L630.16 291.28 L630.28 290.70 L630.40 290.19 L630.52 290.83 L630.64 289.83 L630.76 290.32 L630.88 290.57 L631.00 290.33 L631.12 291.25 L631.24 291.00 L631.36 290.27 L631.48 290.18 L631.60 290.08 L631.72 290.81 L631.84 290.29 L631.96 290.96 L632.08 291.37 L632.20 291.47 L632.32 290.43 L632.44 290.55 L632.56 290.69 L632.68 290.66 L632.80 290.73 L632.92 290.92 L633.04 291.35 L633.16 290.74 L633.28 290.81 L633.40 290.93 L633.52 290.62 L633.64 291.31 L633.76 291.00 L633.88 291.32 L634.00 291.20 L634.12 290.39 L634.24 290.43 L634.36 291.32 L634.48 291.03 L634.60 290.28 L634.72 291.16 L634.84 291.12 L634.96 291.69 L635.08 291.65 L635.20 291.92 L635.32 291.59 L635.44 291.91 L635.56 291.05 L635.68 291.14 L635.80 290.93 L635.92 292.08 L636.04 291.10 L636.16 291.67 L636.28 291.53 L636.40 291.97 L636.52 291.40 L636.64 291.07 L636.76 291.22 L636.88 290.77 L637.00 291.14 L637.12 291.62 L637.24 291.06 L637.36 292.39 L637.48 291.77 L637.60 291.46 L637.72 292.08 L637.84 291.12 L637.96 291.40 L638.08 292.28 L638.20 291.39 L638.32 292.10 L638.44 291.21 L638.56 291.86 L638.68 292.02 L638.80 291.41 L638.92 291.59 L639.04 291.92 L639.16 292.12 L639.28 291.53 L639.40 291.91 L639.52 292.75 L639.64 291.56 L639.76 292.23 L639.88 291.43 L640.00 291.81 L640.12 291.95 L640.24 292.08 L640.36 292.27 L640.48 292.40 L640.60 292.12 L640.72 292.28 L640.84 292.41 L640.96 291.65 L641.08 293.04 L641.20 292.63 L641.32 292.28 L641.44 292.18 L641.56 292.54 L641.68 292.38 L641.80 291.61 L641.92 292.35 L642.04 291.63 L642.16 292.13 L642.28 292.40 L642.40 292.53 L642.52 291.81 L642.64 291.67 L642.76 292.43 L642.88 292.79 L643.00 292.86 L643.12 292.27 L643.24 292.59 L643.36 292.81 L643.48 293.08 L643.60 292.56 L643.72 293.12 L643.84 292.35 L643.96 292.41 L644.08 292.53 L644.20 293.16 L644.32 293.39 L644.44 292.76 L644.56 293.09 L644.68 292.33 L644.80 292.87 L644.92 292.81 L645.04 292.82 L645.16 292.50 L645.28 293.13 L645.40 293.06 L645.52 293.03 L645.64 293.20 L645.76 292.82 L645.88 293.47 L646.00 293.10 L646.12 293.55 L646.24 292.91 L646.36 293.55 L646.48 292.87 L646.60 292.73 L646.72 293.93 L646.84 292.95 L646.96 292.52 L647.08 293.34 L647.20 293.80 L647.32 293.64 L647.44 293.97 L647.56 293.91 L647.68 293.26 L647.80 292.55 L647.92 292.34 L648.04 292.64 L648.16 293.16 L648.28 294.02 L648.40 292.77 L648.52 293.93 L648.64 293.87 L648.76 293.74 L648.88 292.97 L649.00 292.88 L649.12 293.86 L649.24 293.93 L649.36 293.57 L649.48 293.55 L649.60 293.13 L649.72 293.76 L649.84 293.56 L649.96 293.77 L650.08 293.56 L650.20 293.59 L650.32 294.15 L650.44 293.26 L650.56 293.94 L650.68 293.32 L650.80 293.56 L650.92 294.24 L651.04 293.64 L651.16 294.35 L651.28 293.95 L651.40 293.54 L651.52 293.51 L651.64 293.04 L651.76 293.85 L651.88 294.24 L652.00 293.40 L652.12 293.93 L652.24 294.66 L652.36 293.85 L652.48 294.63 L652.60 294.58 L652.72 294.13 L652.84 294.35 L652.96 293.57 L653.08 294.09 L653.20 294.45 L653.32 293.72 L653.44 293.49 L653.56 293.41 L653.68 293.61 L653.80 293.74 L653.92 294.55 L654.04 294.10 L654.16 294.22 L654.28 293.93 L654.40 293.92 L654.52 294.26 L654.64 294.55 L654.76 293.77 L654.88 294.15 L655.00 294.54 L655.12 295.00 L655.24 294.05 L655.36 294.24 L655.48 294.35 L655.60 293.77 L655.72 294.44 L655.84 294.97 L655.96 293.74 L656.08 294.05 L656.20 293.56 L656.32 294.13 L656.44 295.47 L656.56 294.89 L656.68 294.44 L656.80 294.60 L656.92 294.41 L657.04 294.75 L657.16 294.20 L657.28 294.27 L657.40 295.07 L657.52 294.10 L657.64 295.31 L657.76 294.64 L657.88 294.22 L658.00 294.86 L658.12 294.15 L658.24 294.01 L658.36 294.40 L658.48 294.99 L658.60 294.21 L658.72 294.72 L658.84 294.29 L658.96 294.74 L659.08 294.18 L659.20 295.09 L659.32 295.51 L659.44 294.68 L659.56 294.75 L659.68 295.10 L659.80 295.14 L659.92 294.21 L660.04 295.09 L660.16 295.30 L660.28 295.18 L660.40 294.70 L660.52 295.26 L660.64 294.89 L660.76 294.75 L660.88 294.91 L661.00 295.35 L661.12 295.31 L661.24 295.90 L661.36 295.80 L661.48 295.11 L661.60 295.39 L661.72 295.72 L661.84 295.28 L661.96 294.97 L662.08 295.99 L662.20 295.27 L662.32 295.09 L662.44 295.39 L662.56 295.11 L662.68 294.82 L662.80 295.38 L662.92 295.58 L663.04 295.06 L663.16 294.95 L663.28 295.40 L663.40 295.31 L663.52 295.38 L663.64 295.24 L663.76 296.00 L663.88 295.22 L664.00 295.01 L664.12 295.70 L664.24 295.77 L664.36 295.08 L664.48 295.00 L664.60 295.95 L664.72 296.44 L664.84 295.52 L664.96 295.94 L665.08 295.35 L665.20 296.04 L665.32 295.67 L665.44 295.56 L665.56 296.06 L665.68 295.90 L665.80 295.45 L665.92 295.77 L666.04 296.34 L666.16 296.13 L666.28 295.75 L666.40 295.97 L666.52 295.26 L666.64 295.65 L666.76 296.34 L666.88 295.37 L667.00 296.67 L667.12 296.50 L667.24 296.28 L667.36 295.86 L667.48 295.52 L667.60 295.82 L667.72 296.46 L667.84 296.03 L667.96 296.57 L668.08 295.77 L668.20 296.63 L668.32 296.70 L668.44 296.19 L668.56 295.48 L668.68 295.52 L668.80 295.31 L668.92 295.38 L669.04 296.35 L669.16 296.02 L669.28 296.42 L669.40 295.94 L669.52 296.04 L669.64 296.83 L669.76 296.98 L669.88 295.29 L670.00 296.25 L670.12 295.95 L670.24 295.19 L670.36 296.79 L670.48 296.34 L670.60 296.45 L670.72 297.34 L670.84 296.85 L670.96 295.90 L671.08 296.79 L671.20 295.87 L671.32 297.04 L671.44 296.65 L671.56 296.72 L671.68 295.87 L671.80 295.79 L671.92 296.42 L672.04 296.23 L672.16 296.86 L672.28 296.52 L672.40 296.70 L672.52 296.32 L672.64 296.87 L672.76 297.24 L672.88 296.29 L673.00 297.04 L673.12 296.18 L673.24 297.77 L673.36 297.26 L673.48 296.74 L673.60 297.67 L673.72 297.44 L673.84 296.42 L673.96 296.39 L674.08 296.60 L674.20 296.48 L674.32 297.11 L674.44 297.00 L674.56 296.26 L674.68 296.46 L674.80 297.26 L674.92 297.24 L675.04 296.79 L675.16 296.98 L675.28 297.52 L675.40 296.37 L675.52 296.62 L675.64 297.38 L675.76 296.43 L675.88 296.41 L676.00 296.48 L676.12 297.41 L676.24 296.52 L676.36 296.49 L676.48 297.25 L676.60 297.49 L676.72 297.50 L676.84 297.06 L676.96 297.75 L677.08 296.80 L677.20 297.22 L677.32 297.13 L677.44 297.40 L677.56 297.06 L677.68 297.01 L677.80 298.19 L677.92 297.26 L678.04 297.46 L678.16 298.06 L678.28 297.22 L678.40 297.32 L678.52 297.28 L678.64 296.61 L678.76 296.56 L678.88 297.43 L679.00 296.90 L679.12 296.51 L679.24 296.81 L679.36 297.39 L679.48 297.65 L679.60 297.31 L679.72 296.93 L679.84 297.81 L679.96 297.27 L680.08 298.06 L680.20 297.23 L680.32 298.34 L680.44 298.27 L680.56 297.90 L680.68 297.82 L680.80 298.03 L680.92 298.44 L681.04 298.31 L681.16 298.52 L681.28 297.69 L681.40 297.26 L681.52 297.74 L681.64 297.31 L681.76 298.07 L681.88 297.89 L682.00 297.59 L682.12 298.42 L682.24 297.78 L682.36 297.88 L682.48 298.03 L682.60 298.34 L682.72 297.45 L682.84 298.35 L682.96 297.94 L683.08 297.67 L683.20 297.64 L683.32 298.72 L683.44 298.68 L683.56 298.14 L683.68 297.87 L683.80 298.65 L683.92 297.33 L684.04 297.39 L684.16 298.02 L684.28 298.17 L684.40 297.37 L684.52 297.64 L684.64 297.51 L684.76 297.64 L684.88 297.56 L685.00 297.50 L685.12 297.52 L685.24 298.18 L685.36 297.86 L685.48 298.78 L685.60 298.27 L685.72 298.09 L685.84 298.85 L685.96 299.06 L686.08 298.48 L686.20 298.17 L686.32 299.09 L686.44 299.25 L686.56 299.46 L686.68 298.57 L686.80 298.42 L686.92 298.08 L687.04 297.96 L687.16 297.56 L687.28 298.63 L687.40 298.28 L687.52 297.92 L687.64 297.95 L687.76 298.19 L687.88 298.86 L688.00 298.12 L688.12 297.73 L688.24 298.20 L688.36 298.16 L688.48 298.68 L688.60 299.08 L688.72 298.98 L688.84 299.70 L688.96 299.53 L689.08 297.96 L689.20 298.14 L689.32 298.40 L689.44 297.93 L689.56 299.19 L689.68 299.21 L689.80 298.56 L689.92 299.44 L690.04 298.51 L690.16 298.07 L690.28 298.64 L690.40 298.72 L690.52 299.12 L690.64 299.49 L690.76 299.42 L690.88 298.74 L691.00 298.95 L691.12 298.40 L691.24 298.97 L691.36 298.64 L691.48 299.01 L691.60 300.00 L691.72 298.91 L691.84 299.07 L691.96 299.12 L692.08 299.00 L692.20 298.82 L692.32 299.37 L692.44 298.93 L692.56 298.90 L692.68 299.35 L692.80 298.79 L692.92 298.83 L693.04 299.19 L693.16 299.03 L693.28 299.14 L693.40 298.31 L693.52 298.82 L693.64 299.50 L693.76 299.43 L693.88 299.23 L694.00 299.33 L694.12 298.80 L694.24 298.82 L694.36 298.66 L694.48 299.85 L694.60 299.00 L694.72 300.00 L694.84 298.95 L694.96 300.07 L695.08 299.71 L695.20 299.05 L695.32 300.00 L695.44 300.07 L695.56 300.08 L695.68 300.10 L695.80 299.33 L695.92 299.47 L696.04 298.95 L696.16 299.77 L696.28 299.84 L696.40 299.56 L696.52 300.59 L696.64 299.61 L696.76 299.29 L696.88 299.67 L697.00 299.83 L697.12 299.17 L697.24 299.80 L697.36 300.57 L697.48 300.61 L697.60 300.82 L697.72 299.66 L697.84 300.46 L697.96 300.41 L698.08 300.55 L698.20 300.36 L698.32 300.26 L698.44 300.11 L698.56 300.56 L698.68 299.57 L698.80 300.21 L698.92 300.40 L699.04 300.39 L699.16 299.56 L699.28 299.83 L699.40 300.71 L699.52 300.51 L699.64 299.67 L699.76 300.15 L699.88 300.62 L700.00 300.71 L700.12 300.01 L700.24 299.44 L700.36 299.62 L700.48 299.36 L700.60 300.08 L700.72 299.95 L700.84 300.87 L700.96 300.88 L701.08 300.37 L701.20 301.00 L701.32 299.99 L701.44 300.07 L701.56 300.85 L701.68 300.75 L701.80 300.20 L701.92 301.31 L702.04 300.64 L702.16 300.64 L702.28 300.33 L702.40 300.67 L702.52 300.21 L702.64 300.54 L702.76 301.03 L702.88 301.00 L703.00 300.39 L703.12 299.75 L703.24 300.14 L703.36 301.09 L703.48 302.61 L703.60 302.46 L703.72 301.42 L703.84 301.45 L703.96 300.11 L704.08 300.99 L704.20 300.13 L704.32 300.18 L704.44 300.34 L704.56 301.02 L704.68 300.75 L704.80 301.23 L704.92 300.67 L705.04 300.65 L705.16 301.78 L705.28 300.77 L705.40 301.73 L705.52 301.60 L705.64 301.06 L705.76 301.15 L705.88 301.09 L706.00 300.10 L706.12 301.43 L706.24 300.17 L706.36 300.03 L706.48 300.71 L706.60 300.00 L706.72 301.25 L706.84 300.57 L706.96 300.08 L707.08 300.23 L707.20 300.78 L707.32 301.41 L707.44 300.56 L707.56 300.78 L707.68 301.04 L707.80 301.25 L707.92 301.36 L708.04 300.82 L708.16 300.91 L708.28 301.86 L708.40 301.92 L708.52 301.26 L708.64 302.09 L708.76 301.41 L708.88 302.33 L709.00 302.47 L709.12 302.01 L709.24 302.22 L709.36 301.35 L709.48 302.47 L709.60 302.26 L709.72 301.49 L709.84 301.51 L709.96 300.94 L710.08 301.92 L710.20 301.93 L710.32 302.06 L710.44 301.46 L710.56 302.12 L710.68 301.73 L710.80 302.48 L710.92 301.47 L711.04 301.62 L711.16 301.96 L711.28 302.25 L711.40 302.92 L711.52 301.73 L711.64 301.91 L711.76 301.20 L711.88 301.70 L712.00 301.60 L712.12 301.20 L712.24 301.66 L712.36 301.49 L712.48 301.39 L712.60 302.49 L712.72 301.99 L712.84 303.03 L712.96 302.03 L713.08 303.39 L713.20 302.25 L713.32 303.37 L713.44 302.14 L713.56 301.28 L713.68 301.42 L713.80 302.29 L713.92 301.65 L714.04 302.71 L714.16 303.28 L714.28 302.40 L714.40 303.13 L714.52 302.86 L714.64 302.55 L714.76 303.61 L714.88 302.86 L715.00 301.99 L715.12 302.57 L715.24 302.81 L715.36 301.95 L715.48 301.31 L715.60 302.49 L715.72 301.76 L715.84 301.93 L715.96 302.23 L716.08 302.76 L716.20 302.22 L716.32 302.70 L716.44 302.49 L716.56 301.88 L716.68 302.50 L716.80 303.01 L716.92 302.92 L717.04 302.75 L717.16 302.25 L717.28 303.21 L717.40 301.92 L717.52 301.84 L717.64 301.92 L717.76 302.00 L717.88 303.55 L718.00 303.50 L718.12 303.76 L718.24 303.19 L718.36 303.43 L718.48 303.74 L718.60 304.38 L718.72 303.76 L718.84 302.73 L718.96 303.22 L719.08 303.11 L719.20 303.00 L719.32 302.43 L719.44 302.42 L719.56 301.87 L719.68 301.81 L719.80 302.39 L719.92 302.46 L720.04 303.21 L720.16 303.21 L720.28 302.67 L720.40 303.81 L720.52 303.27 L720.64 303.42 L720.76 303.16 L720.88 304.27 L721.00 303.20 L721.12 303.40 L721.24 303.52 L721.36 303.58 L721.48 303.65 L721.60 304.23 L721.72 302.62 L721.84 303.53 L721.96 303.20 L722.08 303.75 L722.20 302.86 L722.32 303.08 L722.44 303.17 L722.56 303.07 L722.68 303.17 L722.80 303.75 L722.92 304.10 L723.04 304.12 L723.16 304.48 L723.28 303.78 L723.40 303.23 L723.52 304.25 L723.64 303.18 L723.76 303.72 L723.88 302.89 L724.00 303.34 L724.12 303.97 L724.24 303.28 L724.36 303.56 L724.48 303.34 L724.60 304.37 L724.72 304.22 L724.84 304.05 L724.96 303.90 L725.08 304.38 L725.20 303.39 L725.32 304.03 L725.44 303.18 L725.56 303.58 L725.68 303.00 L725.80 302.75 L725.92 304.03 L726.04 303.76 L726.16 304.77 L726.28 304.36 L726.40 304.36 L726.52 303.67 L726.64 304.14 L726.76 303.08 L726.88 304.16 L727.00 304.37 L727.12 304.07 L727.24 305.24 L727.36 304.11 L727.48 303.73 L727.60 304.25 L727.72 303.48 L727.84 304.12 L727.96 304.58 L728.08 304.67 L728.20 303.92 L728.32 304.71 L728.44 304.43 L728.56 303.47 L728.68 304.63 L728.80 304.63 L728.92 304.21 L729.04 305.11 L729.16 305.10 L729.28 303.97 L729.40 304.63 L729.52 304.95 L729.64 304.77 L729.76 303.81 L729.88 304.51 L730.00 304.75 L730.12 304.49 L730.24 304.53 L730.36 303.61 L730.48 303.50 L730.60 303.93 L730.72 304.11 L730.84 304.00 L730.96 304.55 L731.08 303.35 L731.20 303.73 L731.32 305.01 L731.44 304.96 L731.56 303.98 L731.68 304.78 L731.80 303.95 L731.92 305.16 L732.04 304.22 L732.16 304.72 L732.28 304.08 L732.40 304.15 L732.52 303.75 L732.64 303.97 L732.76 304.20 L732.88 304.68 L733.00 304.43 L733.12 304.68 L733.24 304.22 L733.36 304.42 L733.48 304.87 L733.60 304.26 L733.72 305.01 L733.84 305.12 L733.96 305.04 L734.08 304.87 L734.20 304.45 L734.32 304.87 L734.44 304.48 L734.56 305.08 L734.68 305.56 L734.80 305.46 L734.92 305.45 L735.04 304.66 L735.16 305.46 L735.28 305.72 L735.40 306.24 L735.52 305.63 L735.64 304.64 L735.76 305.91 L735.88 305.02 L736.00 304.63 L736.12 305.36 L736.24 305.63 L736.36 305.31 L736.48 304.87 L736.60 305.52 L736.72 304.91 L736.84 305.85 L736.96 306.16 L737.08 304.61 L737.20 305.36 L737.32 305.74 L737.44 305.49 L737.56 304.64 L737.68 304.54 L737.80 305.10 L737.92 304.54 L738.04 306.24 L738.16 305.81 L738.28 305.54 L738.40 306.19 L738.52 305.49 L738.64 305.92 L738.76 305.93 L738.88 305.38 L739.00 304.79 L739.12 304.66 L739.24 303.98 L739.36 304.31 L739.48 305.26 L739.60 306.15 L739.72 305.79 L739.84 306.19 L739.96 305.89 L740.08 305.93 L740.20 305.27 L740.32 306.04 L740.44 305.25 L740.56 305.95 L740.68 305.80 L740.80 305.53 L740.92 305.80 L741.04 306.41 L741.16 306.46 L741.28 306.56 L741.40 305.00 L741.52 305.27 L741.64 305.72 L741.76 306.14 L741.88 305.84 L742.00 306.79 L742.12 306.91 L742.24 305.68 L742.36 306.03 L742.48 305.58 L742.60 305.23 L742.72 305.36 L742.84 305.63 L742.96 305.16 L743.08 306.12 L743.20 305.80 L743.32 306.12 L743.44 306.86 L743.56 307.01 L743.68 306.31 L743.80 305.53 L743.92 305.96 L744.04 305.70 L744.16 306.39 L744.28 305.79 L744.40 305.58 L744.52 305.43 L744.64 305.67 L744.76 305.20 L744.88 306.35 L745.00 306.04 L745.12 305.92 L745.24 306.53 L745.36 306.08 L745.48 306.22 L745.60 305.47 L745.72 306.31 L745.84 306.78 L745.96 307.10 L746.08 306.34 L746.20 306.54 L746.32 306.31 L746.44 306.34 L746.56 306.75 L746.68 306.55 L746.80 306.65 L746.92 306.08 L747.04 305.34 L747.16 305.69 L747.28 306.24 L747.40 306.63 L747.52 305.55 L747.64 308.01 L747.76 308.09 L747.88 307.00 L748.00 308.16 L748.12 306.46 L748.24 306.83 L748.36 306.60 L748.48 306.62 L748.60 306.81 L748.72 306.67 L748.84 306.19 L748.96 306.17 L749.08 307.55 L749.20 306.58 L749.32 306.75 L749.44 306.44 L749.56 306.21 L749.68 306.57 L749.80 306.03 L749.92 306.37 L750.04 306.80 L750.16 306.50 L750.28 307.04 L750.40 306.71 L750.52 306.96 L750.64 307.54 L750.76 307.31 L750.88 307.18 L751.00 306.83 L751.12 308.00 L751.24 306.87 L751.36 307.18 L751.48 307.00 L751.60 307.50 L751.72 306.62 L751.84 306.38 L751.96 307.83 L752.08 308.19 L752.20 307.50 L752.32 308.28 L752.44 306.75 L752.56 307.55 L752.68 306.33 L752.80 307.29 L752.92 307.55 L753.04 306.72 L753.16 307.53 L753.28 307.19 L753.40 306.91 L753.52 306.53 L753.64 307.41 L753.76 307.02 L753.88 307.15 L754.00 306.68 L754.12 306.44 L754.24 306.57 L754.36 307.67 L754.48 306.97 L754.60 307.22 L754.72 307.64 L754.84 307.11 L754.96 307.40 L755.08 307.33 L755.20 307.86 L755.32 306.92 L755.44 306.77 L755.56 307.76 L755.68 306.64 L755.80 307.69 L755.92 307.68 L756.04 307.31 L756.16 307.87 L756.28 307.61 L756.40 307.23 L756.52 307.03 L756.64 306.75 L756.76 307.81 L756.88 307.98 L757.00 307.01 L757.12 307.07 L757.24 307.72 L757.36 307.92 L757.48 308.02 L757.60 307.93 L757.72 308.28 L757.84 308.21 L757.96 307.37 L758.08 308.05 L758.20 308.07 L758.32 307.51 L758.44 307.45 L758.56 307.69 L758.68 308.29 L758.80 307.55 L758.92 308.60 L759.04 308.55 L759.16 308.01 L759.28 308.05 L759.40 307.96 L759.52 308.30 L759.64 308.45 L759.76 307.66 L759.88 308.42 L760.00 307.39 L760.12 307.26 L760.24 307.64 L760.36 307.16 L760.48 307.12 L760.60 307.84 L760.72 307.39 L760.84 307.90 L760.96 307.25 L761.08 307.79 L761.20 308.63 L761.32 308.21 L761.44 307.58 L761.56 308.24 L761.68 307.81 L761.80 307.77 L761.92 308.48 L762.04 308.15 L762.16 308.30 L762.28 308.12 L762.40 308.18 L762.52 307.51 L762.64 307.13 L762.76 307.35 L762.88 307.53 L763.00 308.09 L763.12 308.02 L763.24 308.05 L763.36 309.17 L763.48 308.42 L763.60 308.58 L763.72 309.00 L763.84 309.06 L763.96 309.49 L764.08 309.78 L764.20 309.29 L764.32 308.79 L764.44 308.53 L764.56 308.31 L764.68 308.85 L764.80 308.04 L764.92 308.57 L765.04 307.65 L765.16 308.19 L765.28 308.15 L765.40 307.21 L765.52 308.24 L765.64 308.26 L765.76 307.46 L765.88 308.42 L766.00 308.70 L766.12 308.26 L766.24 307.97 L766.36 308.29 L766.48 307.90 L766.60 308.16 L766.72 308.30 L766.84 307.83 L766.96 308.36 L767.08 308.15 L767.20 308.28 L767.32 307.91 L767.44 308.56 L767.56 307.74 L767.68 308.22 L767.80 308.05 L767.92 307.32 L768.04 308.44 L768.16 308.11 L768.28 308.03 L768.40 309.12 L768.52 308.94 L768.64 309.24 L768.76 309.11 L768.88 308.87 L769.00 309.29 L769.12 308.69 L769.24 308.96 L769.36 308.86 L769.48 308.83 L769.60 309.71 L769.72 308.76 L769.84 308.77 L769.96 308.61 L770.08 308.54 L770.20 308.88 L770.32 309.90 L770.44 309.61 L770.56 309.26 L770.68 309.44 L770.80 309.79 L770.92 309.14 L771.04 309.03 L771.16 308.28 L771.28 308.27 L771.40 308.80 L771.52 308.90 L771.64 309.36 L771.76 309.14 L771.88 308.92 L772.00 308.43 L772.12 309.11 L772.24 309.01 L772.36 308.56 L772.48 308.89 L772.60 309.22 L772.72 308.39 L772.84 308.78 L772.96 309.33 L773.08 308.78 L773.20 308.69 L773.32 309.81 L773.44 309.72 L773.56 308.44 L773.68 309.20 L773.80 309.31 L773.92 309.42 L774.04 309.92 L774.16 309.86 L774.28 309.93 L774.40 309.96 L774.52 309.46 L774.64 309.59 L774.76 309.75 L774.88 310.66 L775.00 309.38 L775.12 309.59 L775.24 310.10 L775.36 308.89 L775.48 308.79 L775.60 308.92 L775.72 309.83 L775.84 309.55 L775.96 308.76 L776.08 308.69 L776.20 308.84 L776.32 309.89 L776.44 309.26 L776.56 309.90 L776.68 309.88 L776.80 310.05 L776.92 309.70 L777.04 309.34 L777.16 309.68 L777.28 310.22 L777.40 309.79 L777.52 309.03 L777.64 309.16 L777.76 309.61 L777.88 309.58 L778.00 309.37 L778.12 309.44 L778.24 309.73 L778.36 309.07 L778.48 309.82 L778.60 309.69 L778.72 310.07 L778.84 310.34 L778.96 309.94 L779.08 309.57 L779.20 309.65 L779.32 310.70 L779.44 310.35 L779.56 309.62 L779.68 310.18 L779.80 310.72 L779.92 310.78 L780.04 310.84 L780.16 310.95 L780.28 309.60 L780.40 309.87 L780.52 309.05 L780.64 309.88 L780.76 309.20 L780.88 308.79 L781.00 308.86 L781.12 309.50 L781.24 308.70 L781.36 308.88 L781.48 308.93 L781.60 309.48 L781.72 309.25 L781.84 309.10 L781.96 309.26 L782.08 310.01 L782.20 308.64 L782.32 309.35 L782.44 309.29 L782.56 309.12 L782.68 309.00 L782.80 309.28 L782.92 308.62 L783.04 308.99 L783.16 309.65 L783.28 309.28 L783.40 309.82 L783.52 309.53 L783.64 308.94 L783.76 309.04 L783.88 309.33 L784.00 309.81 L784.12 310.68 L784.24 310.25 L784.36 309.64 L784.48 310.44 L784.60 311.36 L784.72 310.18 L784.84 310.60 L784.96 310.14 L785.08 310.07 L785.10 309.41" fill="none" stroke="#0000ff" stroke-width="2.3" stroke-linejoin="round" clip-path="url(#c1)"/>
<circle cx="202.70" cy="280.94" r="5.0" fill="none" stroke="#0000ff" stroke-width="2.4"/>
<circle cx="267.70" cy="239.80" r="5.0" fill="none" stroke="#0000ff" stroke-width="2.4"/>
<circle cx="361.00" cy="225.31" r="5.0" fill="none" stroke="#0000ff" stroke-width="2.4"/>
<circle cx="432.30" cy="245.00" r="5.0" fill="none" stroke="#0000ff" stroke-width="2.4"/>
<circle cx="528.30" cy="271.26" r="5.0" fill="none" stroke="#0000ff" stroke-width="2.4"/>
<circle cx="600.40" cy="285.30" r="5.0" fill="none" stroke="#0000ff" stroke-width="2.4"/>
<circle cx="696.90" cy="299.80" r="5.0" fill="none" stroke="#0000ff" stroke-width="2.4"/>
<circle cx="768.60" cy="308.72" r="5.0" fill="none" stroke="#0000ff" stroke-width="2.4"/>
<path d="M111.00 372.90 L113.00 372.66 L115.00 372.41 L117.00 372.15 L119.00 371.90 L121.00 371.64 L123.00 371.38 L125.00 371.11 L127.00 370.84 L129.00 370.56 L131.00 370.29 L133.00 370.01 L135.00 369.72 L137.00 369.44 L139.00 369.15 L141.00 368.85 L143.00 368.56 L145.00 368.26 L147.00 367.96 L149.00 367.65 L151.00 367.34 L153.00 367.02 L155.00 366.70 L157.00 366.38 L159.00 366.05 L161.00 365.71 L163.00 365.38 L165.00 365.04 L167.00 364.70 L169.00 364.35 L171.00 364.00 L173.00 363.66 L175.00 363.31 L177.00 362.95 L179.00 362.60 L181.00 362.25 L183.00 361.89 L185.00 361.54 L187.00 361.18 L189.00 360.81 L191.00 360.44 L193.00 360.07 L195.00 359.68 L197.00 359.29 L199.00 358.90 L201.00 358.49 L203.00 358.08 L205.00 357.65 L207.00 357.22 L209.00 356.77 L211.00 356.31 L213.00 355.85 L215.00 355.37 L217.00 354.89 L219.00 354.41 L221.00 353.92 L223.00 353.42 L225.00 352.92 L227.00 352.42 L229.00 351.91 L231.00 351.41 L233.00 350.91 L235.00 350.40 L237.00 349.90 L239.00 349.40 L241.00 348.90 L243.00 348.41 L245.00 347.90 L247.00 347.39 L249.00 346.87 L251.00 346.33 L253.00 345.78 L255.00 345.20 L257.00 344.60 L259.00 343.97 L261.00 343.32 L263.00 342.65 L265.00 341.96 L267.00 341.25 L269.00 340.53 L271.00 339.79 L273.00 339.04 L275.00 338.27 L277.00 337.48 L279.00 336.68 L281.00 335.88 L283.00 335.06 L285.00 334.23 L287.00 333.41 L289.00 332.57 L291.00 331.74 L293.00 330.90 L295.00 330.07 L297.00 329.23 L299.00 328.38 L301.00 327.53 L303.00 326.66 L305.00 325.79 L307.00 324.91 L309.00 324.03 L311.00 323.15 L313.00 322.27 L315.00 321.38 L317.00 320.51 L319.00 319.63 L321.00 318.76 L323.00 317.90 L325.00 317.05 L327.00 316.21 L329.00 315.38 L331.00 314.55 L333.00 313.73 L335.00 312.91 L337.00 312.10 L339.00 311.29 L341.00 310.48 L343.00 309.67 L345.00 308.87 L347.00 308.06 L349.00 307.25 L351.00 306.44 L353.00 305.63 L355.00 304.81 L357.00 303.99 L359.00 303.16 L361.00 302.33 L363.00 301.49 L365.00 300.65 L367.00 299.81 L369.00 298.97 L371.00 298.13 L373.00 297.28 L375.00 296.43 L377.00 295.57 L379.00 294.70 L381.00 293.83 L383.00 292.94 L385.00 292.04 L387.00 291.13 L389.00 290.18 L391.00 289.20 L393.00 288.21 L395.00 287.22 L397.00 286.26 L399.00 285.34 L401.00 284.47 L403.00 283.61 L405.00 282.76 L407.00 281.94 L409.00 281.14 L411.00 280.38 L413.00 279.67 L415.00 279.00 L417.00 278.38 L419.00 277.78 L421.00 277.20 L423.00 276.65 L425.00 276.13 L427.00 275.62 L429.00 275.14 L431.00 274.69 L433.00 274.25 L435.00 273.81 L437.00 273.36 L439.00 272.91 L441.00 272.46 L443.00 272.02 L445.00 271.60 L447.00 271.19 L449.00 270.82 L451.00 270.47 L453.00 270.16 L455.00 269.89 L457.00 269.66 L459.00 269.49 L461.00 269.38 L463.00 269.28 L465.00 269.19 L467.00 269.11 L469.00 269.04 L471.00 268.98 L473.00 268.93 L475.00 268.91 L477.00 268.90 L479.00 268.92 L481.00 268.98 L483.00 269.05 L485.00 269.14 L487.00 269.24 L489.00 269.35 L491.00 269.45 L493.00 269.57 L495.00 269.70 L497.00 269.85 L499.00 270.01 L501.00 270.19 L503.00 270.37 L505.00 270.57 L507.00 270.79 L509.00 271.04 L511.00 271.32 L512.00 271.47 L512.12 271.49 L512.24 271.51 L512.36 271.52 L512.48 271.53 L512.60 271.58 L512.72 271.56 L512.84 271.58 L512.96 271.61 L513.08 271.62 L513.20 271.62 L513.32 271.65 L513.44 271.66 L513.56 271.71 L513.68 271.75 L513.80 271.75 L513.92 271.71 L514.04 271.80 L514.16 271.84 L514.28 271.77 L514.40 271.84 L514.52 271.95 L514.64 271.94 L514.76 271.89 L514.88 271.87 L515.00 271.86 L515.12 271.85 L515.24 271.91 L515.36 271.99 L515.48 272.01 L515.60 271.95 L515.72 272.04 L515.84 272.06 L515.96 272.18 L516.08 272.24 L516.20 272.27 L516.32 272.15 L516.44 272.28 L516.56 272.23 L516.68 272.07 L516.80 272.08 L516.92 272.28 L517.04 272.33 L517.16 272.34 L517.28 272.30 L517.40 272.36 L517.52 272.41 L517.64 272.45 L517.76 272.23 L517.88 272.39 L518.00 272.35 L518.12 272.43 L518.24 272.41 L518.36 272.28 L518.48 272.64 L518.60 272.53 L518.72 272.72 L518.84 272.33 L518.96 272.37 L519.08 272.40 L519.20 272.81 L519.32 272.64 L519.44 272.79 L519.56 272.44 L519.68 272.83 L519.80 272.47 L519.92 272.97 L520.04 272.76 L520.16 273.04 L520.28 272.87 L520.40 272.87 L520.52 272.62 L520.64 272.93 L520.76 273.02 L520.88 272.95 L521.00 273.02 L521.12 273.17 L521.24 273.07 L521.36 273.05 L521.48 272.99 L521.60 272.96 L521.72 273.16 L521.84 273.26 L521.96 273.21 L522.08 272.77 L522.20 272.90 L522.32 273.18 L522.44 273.17 L522.56 273.46 L522.68 273.53 L522.80 273.48 L522.92 273.27 L523.04 273.38 L523.16 273.51 L523.28 272.95 L523.40 273.10 L523.52 272.88 L523.64 273.40 L523.76 273.67 L523.88 272.90 L524.00 273.02 L524.12 273.10 L524.24 273.63 L524.36 273.28 L524.48 273.14 L524.60 273.31 L524.72 273.22 L524.84 273.23 L524.96 273.55 L525.08 273.66 L525.20 273.28 L525.32 273.58 L525.44 273.09 L525.56 274.04 L525.68 273.19 L525.80 273.66 L525.92 274.13 L526.04 273.46 L526.16 273.44 L526.28 273.92 L526.40 273.66 L526.52 273.46 L526.64 273.80 L526.76 274.09 L526.88 273.94 L527.00 273.50 L527.12 273.98 L527.24 274.29 L527.36 273.49 L527.48 274.02 L527.60 273.87 L527.72 274.07 L527.84 273.48 L527.96 273.61 L528.08 273.76 L528.20 274.36 L528.32 273.84 L528.44 273.80 L528.56 274.30 L528.68 273.59 L528.80 273.82 L528.92 274.13 L529.04 273.89 L529.16 274.22 L529.28 274.24 L529.40 273.68 L529.52 273.69 L529.64 274.54 L529.76 274.08 L529.88 273.75 L530.00 273.67 L530.12 274.14 L530.24 274.71 L530.36 273.89 L530.48 274.96 L530.60 273.67 L530.72 274.46 L530.84 274.62 L530.96 274.41 L531.08 274.05 L531.20 274.15 L531.32 274.50 L531.44 275.00 L531.56 274.35 L531.68 274.26 L531.80 274.35 L531.92 275.24 L532.04 274.19 L532.16 274.07 L532.28 275.15 L532.40 274.03 L532.52 275.11 L532.64 274.81 L532.76 275.33 L532.88 274.38 L533.00 275.22 L533.12 274.06 L533.24 275.15 L533.36 274.47 L533.48 274.69 L533.60 275.24 L533.72 275.00 L533.84 274.74 L533.96 274.50 L534.08 275.25 L534.20 274.81 L534.32 274.47 L534.44 274.73 L534.56 275.39 L534.68 274.23 L534.80 274.67 L534.92 275.34 L535.04 275.18 L535.16 274.92 L535.28 274.48 L535.40 274.33 L535.52 274.91 L535.64 275.39 L535.76 274.74 L535.88 275.77 L536.00 275.34 L536.12 275.09 L536.24 275.59 L536.36 274.88 L536.48 275.85 L536.60 275.03 L536.72 274.47 L536.84 276.05 L536.96 275.29 L537.08 275.97 L537.20 274.71 L537.32 274.88 L537.44 275.35 L537.56 276.03 L537.68 274.76 L537.80 275.50 L537.92 275.87 L538.04 275.30 L538.16 275.41 L538.28 276.21 L538.40 275.59 L538.52 275.86 L538.64 275.85 L538.76 276.23 L538.88 275.36 L539.00 275.71 L539.12 275.19 L539.24 275.41 L539.36 276.21 L539.48 276.45 L539.60 275.46 L539.72 276.17 L539.84 275.83 L539.96 276.10 L540.08 275.60 L540.20 275.60 L540.32 275.38 L540.44 275.88 L540.56 275.18 L540.68 276.49 L540.80 275.53 L540.92 276.17 L541.04 275.99 L541.16 275.75 L541.28 276.73 L541.40 276.60 L541.52 276.43 L541.64 275.47 L541.76 276.04 L541.88 276.36 L542.00 275.49 L542.12 276.47 L542.24 276.69 L542.36 276.92 L542.48 276.23 L542.60 275.49 L542.72 275.80 L542.84 276.77 L542.96 275.74 L543.08 276.52 L543.20 276.59 L543.32 276.28 L543.44 276.85 L543.56 275.81 L543.68 276.62 L543.80 276.26 L543.92 277.05 L544.04 276.33 L544.16 276.02 L544.28 276.29 L544.40 276.60 L544.52 275.91 L544.64 277.18 L544.76 276.86 L544.88 276.34 L545.00 276.84 L545.12 277.46 L545.24 276.87 L545.36 276.58 L545.48 277.04 L545.60 277.18 L545.72 277.09 L545.84 276.35 L545.96 276.07 L546.08 276.56 L546.20 276.77 L546.32 277.43 L546.44 276.26 L546.56 277.49 L546.68 276.26 L546.80 276.69 L546.92 276.85 L547.04 277.72 L547.16 277.77 L547.28 276.34 L547.40 276.61 L547.52 277.03 L547.64 276.77 L547.76 277.88 L547.88 277.36 L548.00 276.92 L548.12 277.38 L548.24 277.52 L548.36 277.84 L548.48 277.91 L548.60 277.18 L548.72 277.74 L548.84 278.11 L548.96 277.43 L549.08 277.77 L549.20 277.40 L549.32 277.25 L549.44 276.99 L549.56 276.83 L549.68 277.23 L549.80 277.30 L549.92 277.66 L550.04 277.84 L550.16 277.93 L550.28 278.05 L550.40 277.75 L550.52 277.68 L550.64 277.86 L550.76 278.03 L550.88 278.28 L551.00 277.35 L551.12 278.34 L551.24 277.31 L551.36 277.04 L551.48 278.31 L551.60 277.43 L551.72 278.42 L551.84 277.67 L551.96 277.69 L552.08 278.54 L552.20 278.38 L552.32 277.28 L552.44 278.72 L552.56 277.57 L552.68 278.32 L552.80 278.79 L552.92 278.65 L553.04 278.11 L553.16 278.86 L553.28 278.47 L553.40 277.79 L553.52 278.96 L553.64 278.34 L553.76 277.97 L553.88 278.18 L554.00 277.81 L554.12 278.44 L554.24 278.45 L554.36 277.83 L554.48 278.26 L554.60 278.04 L554.72 279.07 L554.84 277.97 L554.96 278.65 L555.08 278.73 L555.20 278.69 L555.32 278.35 L555.44 278.16 L555.56 277.81 L555.68 278.14 L555.80 279.14 L555.92 278.30 L556.04 278.74 L556.16 278.38 L556.28 278.03 L556.40 278.62 L556.52 279.56 L556.64 278.64 L556.76 278.55 L556.88 278.96 L557.00 278.63 L557.12 278.46 L557.24 278.72 L557.36 279.57 L557.48 278.38 L557.60 278.38 L557.72 279.40 L557.84 278.52 L557.96 278.45 L558.08 278.65 L558.20 279.70 L558.32 279.81 L558.44 279.82 L558.56 278.85 L558.68 279.82 L558.80 278.50 L558.92 279.19 L559.04 279.32 L559.16 279.18 L559.28 280.05 L559.40 279.72 L559.52 279.29 L559.64 279.73 L559.76 279.80 L559.88 278.78 L560.00 279.14 L560.12 279.17 L560.24 280.17 L560.36 280.05 L560.48 279.19 L560.60 280.31 L560.72 278.87 L560.84 279.31 L560.96 279.12 L561.08 279.65 L561.20 280.29 L561.32 280.13 L561.44 278.95 L561.56 279.31 L561.68 280.18 L561.80 279.40 L561.92 280.29 L562.04 280.00 L562.16 280.14 L562.28 280.19 L562.40 279.99 L562.52 279.38 L562.64 280.41 L562.76 280.03 L562.88 280.31 L563.00 279.22 L563.12 279.49 L563.24 280.13 L563.36 280.53 L563.48 279.84 L563.60 280.49 L563.72 279.31 L563.84 279.40 L563.96 280.46 L564.08 280.96 L564.20 279.90 L564.32 279.96 L564.44 279.99 L564.56 280.39 L564.68 280.12 L564.80 280.09 L564.92 280.76 L565.04 279.56 L565.16 280.97 L565.28 280.78 L565.40 281.15 L565.52 280.99 L565.64 280.93 L565.76 280.15 L565.88 280.96 L566.00 280.68 L566.12 280.31 L566.24 281.07 L566.36 280.58 L566.48 281.39 L566.60 280.99 L566.72 281.27 L566.84 281.32 L566.96 280.84 L567.08 281.35 L567.20 280.90 L567.32 280.79 L567.44 281.58 L567.56 281.13 L567.68 281.14 L567.80 281.64 L567.92 281.09 L568.04 280.11 L568.16 281.21 L568.28 281.15 L568.40 281.33 L568.52 281.75 L568.64 281.39 L568.76 281.83 L568.88 281.52 L569.00 281.85 L569.12 281.00 L569.24 280.72 L569.36 281.23 L569.48 281.79 L569.60 281.76 L569.72 281.48 L569.84 281.08 L569.96 280.90 L570.08 280.52 L570.20 281.17 L570.32 281.33 L570.44 282.11 L570.56 281.47 L570.68 281.51 L570.80 281.35 L570.92 280.66 L571.04 281.11 L571.16 281.73 L571.28 281.83 L571.40 282.24 L571.52 281.51 L571.64 281.87 L571.76 282.06 L571.88 282.02 L572.00 281.03 L572.12 282.28 L572.24 282.08 L572.36 281.97 L572.48 281.15 L572.60 282.45 L572.72 282.05 L572.84 281.29 L572.96 281.94 L573.08 281.27 L573.20 281.14 L573.32 282.21 L573.44 282.28 L573.56 281.94 L573.68 281.38 L573.80 281.69 L573.92 281.35 L574.04 281.57 L574.16 281.33 L574.28 282.31 L574.40 282.52 L574.52 282.12 L574.64 282.38 L574.76 281.58 L574.88 282.82 L575.00 282.34 L575.12 281.61 L575.24 282.28 L575.36 282.19 L575.48 282.86 L575.60 282.70 L575.72 281.67 L575.84 282.58 L575.96 281.65 L576.08 282.38 L576.20 282.94 L576.32 281.93 L576.44 282.69 L576.56 282.32 L576.68 281.88 L576.80 283.14 L576.92 282.89 L577.04 282.19 L577.16 282.11 L577.28 282.38 L577.40 282.97 L577.52 283.32 L577.64 282.70 L577.76 281.90 L577.88 281.94 L578.00 282.33 L578.12 283.22 L578.24 282.25 L578.36 282.93 L578.48 282.07 L578.60 282.57 L578.72 283.13 L578.84 283.18 L578.96 282.15 L579.08 282.42 L579.20 282.53 L579.32 282.59 L579.44 282.78 L579.56 283.49 L579.68 282.42 L579.80 282.64 L579.92 283.07 L580.04 283.57 L580.16 283.57 L580.28 282.54 L580.40 283.24 L580.52 283.45 L580.64 283.13 L580.76 283.82 L580.88 282.65 L581.00 283.39 L581.12 283.66 L581.24 284.11 L581.36 282.58 L581.48 283.74 L581.60 283.15 L581.72 283.82 L581.84 283.49 L581.96 283.92 L582.08 282.96 L582.20 284.18 L582.32 283.36 L582.44 284.05 L582.56 283.25 L582.68 283.02 L582.80 283.38 L582.92 283.93 L583.04 284.35 L583.16 283.69 L583.28 283.45 L583.40 284.43 L583.52 284.15 L583.64 283.71 L583.76 284.05 L583.88 283.44 L584.00 283.85 L584.12 283.71 L584.24 283.49 L584.36 283.26 L584.48 283.51 L584.60 284.44 L584.72 284.40 L584.84 283.91 L584.96 284.64 L585.08 283.51 L585.20 284.45 L585.32 284.52 L585.44 283.43 L585.56 284.73 L585.68 284.60 L585.80 284.13 L585.92 284.20 L586.04 284.37 L586.16 284.22 L586.28 283.56 L586.40 284.19 L586.52 284.90 L586.64 284.40 L586.76 283.96 L586.88 285.04 L587.00 284.29 L587.12 283.93 L587.24 284.61 L587.36 283.95 L587.48 284.70 L587.60 284.80 L587.72 284.05 L587.84 284.27 L587.96 284.73 L588.08 284.16 L588.20 285.15 L588.32 285.02 L588.44 284.16 L588.56 284.84 L588.68 284.84 L588.80 284.54 L588.92 285.02 L589.04 284.68 L589.16 284.72 L589.28 284.66 L589.40 284.97 L589.52 284.08 L589.64 285.06 L589.76 284.31 L589.88 284.51 L590.00 285.47 L590.12 284.55 L590.24 285.20 L590.36 284.64 L590.48 285.85 L590.60 285.85 L590.72 284.83 L590.84 285.78 L590.96 285.80 L591.08 284.69 L591.20 284.99 L591.32 284.71 L591.44 284.79 L591.56 285.31 L591.68 285.29 L591.80 285.23 L591.92 284.85 L592.04 285.40 L592.16 286.08 L592.28 285.17 L592.40 285.71 L592.52 284.98 L592.64 285.84 L592.76 285.58 L592.88 286.15 L593.00 284.86 L593.12 285.80 L593.24 285.45 L593.36 285.39 L593.48 285.33 L593.60 286.27 L593.72 285.25 L593.84 285.88 L593.96 284.95 L594.08 286.47 L594.20 286.24 L594.32 286.08 L594.44 285.84 L594.56 285.60 L594.68 285.75 L594.80 286.13 L594.92 285.89 L595.04 286.53 L595.16 285.64 L595.28 286.53 L595.40 285.66 L595.52 285.43 L595.64 285.43 L595.76 285.67 L595.88 286.76 L596.00 286.60 L596.12 286.52 L596.24 285.86 L596.36 285.66 L596.48 285.92 L596.60 286.43 L596.72 285.64 L596.84 286.24 L596.96 286.00 L597.08 286.65 L597.20 286.48 L597.32 285.77 L597.44 286.05 L597.56 286.87 L597.68 287.02 L597.80 286.43 L597.92 286.96 L598.04 286.00 L598.16 286.33 L598.28 286.81 L598.40 285.85 L598.52 286.68 L598.64 287.22 L598.76 286.17 L598.88 285.88 L599.00 286.92 L599.12 286.96 L599.24 286.30 L599.36 286.45 L599.48 286.50 L599.60 286.11 L599.72 287.16 L599.84 286.33 L599.96 287.25 L600.08 287.08 L600.20 286.14 L600.32 287.20 L600.44 286.25 L600.56 287.09 L600.68 286.21 L600.80 287.04 L600.92 286.84 L601.04 286.99 L601.16 287.41 L601.28 287.42 L601.40 286.33 L601.52 286.54 L601.64 287.90 L601.76 287.05 L601.88 287.68 L602.00 287.27 L602.12 287.62 L602.24 286.52 L602.36 287.23 L602.48 287.65 L602.60 287.16 L602.72 287.66 L602.84 287.87 L602.96 287.86 L603.08 286.94 L603.20 288.09 L603.32 287.59 L603.44 286.97 L603.56 287.89 L603.68 287.05 L603.80 287.19 L603.92 287.35 L604.04 287.53 L604.16 287.02 L604.28 288.12 L604.40 288.10 L604.52 287.26 L604.64 288.35 L604.76 286.91 L604.88 287.03 L605.00 288.22 L605.12 287.40 L605.24 287.37 L605.36 287.09 L605.48 287.40 L605.60 287.01 L605.72 287.93 L605.84 286.94 L605.96 287.83 L606.08 288.57 L606.20 288.07 L606.32 287.72 L606.44 287.40 L606.56 288.77 L606.68 287.30 L606.80 288.09 L606.92 287.70 L607.04 288.36 L607.16 288.10 L607.28 288.68 L607.40 288.83 L607.52 288.49 L607.64 288.11 L607.76 288.23 L607.88 288.98 L608.00 288.71 L608.12 288.75 L608.24 289.08 L608.36 288.04 L608.48 288.79 L608.60 288.69 L608.72 288.12 L608.84 288.76 L608.96 287.75 L609.08 287.62 L609.20 289.01 L609.32 289.24 L609.44 288.39 L609.56 288.35 L609.68 288.11 L609.80 289.38 L609.92 288.32 L610.04 288.95 L610.16 289.25 L610.28 288.63 L610.40 289.46 L610.52 288.53 L610.64 289.21 L610.76 288.22 L610.88 288.67 L611.00 289.04 L611.12 288.35 L611.24 289.23 L611.36 289.43 L611.48 288.40 L611.60 288.75 L611.72 288.00 L611.84 288.64 L611.96 288.97 L612.08 288.29 L612.20 289.79 L612.32 288.53 L612.44 289.08 L612.56 288.30 L612.68 288.55 L612.80 289.38 L612.92 288.76 L613.04 289.50 L613.16 289.62 L613.28 289.02 L613.40 288.60 L613.52 289.66 L613.64 289.98 L613.76 288.92 L613.88 288.67 L614.00 289.92 L614.12 289.38 L614.24 288.85 L614.36 288.73 L614.48 289.27 L614.60 290.06 L614.72 288.87 L614.84 289.78 L614.96 289.05 L615.08 289.63 L615.20 289.42 L615.32 289.63 L615.44 288.97 L615.56 290.24 L615.68 290.46 L615.80 289.70 L615.92 289.57 L616.04 289.98 L616.16 289.01 L616.28 288.87 L616.40 289.93 L616.52 289.83 L616.64 289.99 L616.76 289.05 L616.88 290.40 L617.00 290.10 L617.12 289.23 L617.24 290.13 L617.36 290.66 L617.48 289.54 L617.60 290.66 L617.72 290.71 L617.84 290.54 L617.96 289.80 L618.08 289.75 L618.20 289.64 L618.32 290.34 L618.44 289.59 L618.56 290.22 L618.68 290.26 L618.80 290.90 L618.92 290.72 L619.04 290.06 L619.16 290.26 L619.28 290.46 L619.40 290.31 L619.52 289.91 L619.64 289.73 L619.76 290.40 L619.88 290.13 L620.00 289.88 L620.12 290.02 L620.24 289.56 L620.36 290.75 L620.48 290.01 L620.60 290.08 L620.72 291.16 L620.84 289.88 L620.96 290.85 L621.08 290.53 L621.20 290.16 L621.32 290.98 L621.44 290.92 L621.56 291.56 L621.68 291.67 L621.80 290.53 L621.92 290.39 L622.04 290.76 L622.16 290.03 L622.28 290.76 L622.40 290.09 L622.52 290.39 L622.64 291.19 L622.76 291.47 L622.88 291.02 L623.00 291.82 L623.12 290.54 L623.24 290.57 L623.36 291.03 L623.48 290.82 L623.60 291.16 L623.72 290.40 L623.84 291.43 L623.96 290.56 L624.08 290.76 L624.20 290.73 L624.32 291.62 L624.44 290.55 L624.56 292.07 L624.68 290.91 L624.80 290.70 L624.92 290.87 L625.04 291.16 L625.16 290.71 L625.28 291.58 L625.40 291.59 L625.52 291.41 L625.64 291.94 L625.76 291.67 L625.88 290.79 L626.00 290.97 L626.12 291.52 L626.24 291.28 L626.36 291.44 L626.48 291.58 L626.60 292.01 L626.72 291.65 L626.84 292.14 L626.96 291.79 L627.08 290.98 L627.20 292.57 L627.32 291.25 L627.44 291.67 L627.56 290.84 L627.68 291.67 L627.80 291.94 L627.92 291.33 L628.04 292.34 L628.16 291.12 L628.28 292.42 L628.40 292.18 L628.52 291.08 L628.64 291.02 L628.76 290.98 L628.88 291.82 L629.00 291.45 L629.12 292.62 L629.24 291.27 L629.36 292.40 L629.48 291.68 L629.60 291.12 L629.72 292.30 L629.84 292.08 L629.96 291.60 L630.08 291.83 L630.20 291.52 L630.32 291.51 L630.44 292.09 L630.56 292.06 L630.68 291.54 L630.80 291.71 L630.92 292.89 L631.04 291.88 L631.16 292.11 L631.28 291.61 L631.40 291.48 L631.52 292.44 L631.64 291.87 L631.76 292.69 L631.88 292.12 L632.00 292.36 L632.12 292.82 L632.24 292.91 L632.36 292.15 L632.48 292.78 L632.60 292.54 L632.72 292.96 L632.84 292.85 L632.96 292.97 L633.08 292.10 L633.20 291.82 L633.32 292.00 L633.44 292.55 L633.56 292.70 L633.68 292.49 L633.80 292.40 L633.92 292.84 L634.04 292.67 L634.16 292.25 L634.28 293.26 L634.40 292.77 L634.52 292.24 L634.64 292.50 L634.76 292.93 L634.88 292.18 L635.00 292.87 L635.12 293.24 L635.24 292.05 L635.36 292.62 L635.48 293.26 L635.60 292.97 L635.72 292.63 L635.84 291.97 L635.96 293.44 L636.08 293.54 L636.20 293.53 L636.32 292.66 L636.44 293.25 L636.56 293.62 L636.68 293.48 L636.80 294.21 L636.92 293.63 L637.04 292.70 L637.16 293.28 L637.28 294.42 L637.40 294.41 L637.52 294.34 L637.64 293.01 L637.76 293.11 L637.88 293.69 L638.00 292.80 L638.12 293.93 L638.24 293.30 L638.36 293.71 L638.48 293.54 L638.60 293.36 L638.72 294.24 L638.84 293.21 L638.96 293.66 L639.08 293.13 L639.20 293.62 L639.32 293.62 L639.44 293.23 L639.56 293.34 L639.68 293.17 L639.80 292.93 L639.92 293.57 L640.04 292.66 L640.16 293.24 L640.28 294.25 L640.40 293.76 L640.52 293.65 L640.64 294.51 L640.76 294.61 L640.88 294.28 L641.00 293.85 L641.12 294.80 L641.24 294.67 L641.36 294.46 L641.48 294.35 L641.60 294.05 L641.72 294.12 L641.84 294.49 L641.96 294.06 L642.08 294.00 L642.20 294.57 L642.32 293.71 L642.44 293.57 L642.56 293.67 L642.68 294.40 L642.80 293.48 L642.92 293.49 L643.04 293.29 L643.16 293.07 L643.28 294.56 L643.40 293.87 L643.52 294.75 L643.64 294.10 L643.76 294.90 L643.88 294.07 L644.00 294.46 L644.12 294.29 L644.24 295.11 L644.36 294.24 L644.48 294.76 L644.60 294.19 L644.72 294.01 L644.84 295.27 L644.96 295.10 L645.08 295.16 L645.20 295.50 L645.32 295.20 L645.44 293.97 L645.56 294.33 L645.68 294.55 L645.80 295.71 L645.92 294.24 L646.04 295.41 L646.16 294.35 L646.28 294.10 L646.40 294.23 L646.52 294.57 L646.64 295.32 L646.76 295.28 L646.88 294.43 L647.00 295.52 L647.12 294.06 L647.24 294.79 L647.36 295.49 L647.48 295.28 L647.60 296.15 L647.72 293.93 L647.84 295.32 L647.96 294.38 L648.08 295.21 L648.20 294.31 L648.32 295.76 L648.44 295.64 L648.56 295.27 L648.68 295.48 L648.80 295.45 L648.92 295.56 L649.04 295.30 L649.16 296.24 L649.28 295.63 L649.40 295.84 L649.52 295.50 L649.64 295.90 L649.76 294.38 L649.88 295.54 L650.00 294.76 L650.12 295.45 L650.24 294.67 L650.36 294.96 L650.48 295.53 L650.60 295.11 L650.72 295.53 L650.84 295.52 L650.96 294.69 L651.08 295.92 L651.20 295.27 L651.32 295.52 L651.44 295.68 L651.56 295.02 L651.68 294.85 L651.80 294.71 L651.92 295.47 L652.04 295.57 L652.16 294.68 L652.28 295.36 L652.40 294.62 L652.52 295.81 L652.64 295.28 L652.76 295.39 L652.88 295.91 L653.00 295.53 L653.12 295.53 L653.24 295.31 L653.36 296.14 L653.48 295.58 L653.60 296.15 L653.72 295.22 L653.84 296.60 L653.96 296.47 L654.08 295.24 L654.20 295.67 L654.32 295.15 L654.44 295.59 L654.56 296.33 L654.68 295.91 L654.80 295.20 L654.92 296.79 L655.04 296.14 L655.16 295.39 L655.28 295.87 L655.40 295.58 L655.52 296.77 L655.64 296.00 L655.76 296.19 L655.88 296.92 L656.00 296.50 L656.12 295.69 L656.24 295.74 L656.36 295.66 L656.48 296.47 L656.60 296.40 L656.72 296.00 L656.84 295.42 L656.96 295.07 L657.08 295.07 L657.20 295.99 L657.32 296.75 L657.44 296.30 L657.56 296.62 L657.68 296.25 L657.80 295.65 L657.92 295.58 L658.04 296.88 L658.16 297.00 L658.28 297.17 L658.40 296.11 L658.52 296.81 L658.64 296.83 L658.76 296.91 L658.88 297.18 L659.00 297.41 L659.12 296.22 L659.24 296.84 L659.36 296.35 L659.48 297.03 L659.60 297.19 L659.72 297.65 L659.84 297.38 L659.96 297.65 L660.08 296.39 L660.20 295.95 L660.32 296.49 L660.44 296.99 L660.56 297.14 L660.68 297.71 L660.80 296.59 L660.92 297.50 L661.04 297.30 L661.16 295.96 L661.28 296.46 L661.40 296.96 L661.52 296.00 L661.64 296.81 L661.76 295.66 L661.88 295.54 L662.00 296.01 L662.12 297.10 L662.24 297.11 L662.36 297.27 L662.48 296.19 L662.60 297.42 L662.72 297.42 L662.84 297.44 L662.96 297.80 L663.08 297.79 L663.20 297.30 L663.32 296.77 L663.44 297.78 L663.56 297.21 L663.68 296.38 L663.80 296.46 L663.92 297.24 L664.04 296.80 L664.16 296.93 L664.28 297.12 L664.40 297.49 L664.52 297.83 L664.64 296.49 L664.76 297.84 L664.88 297.07 L665.00 297.11 L665.12 297.09 L665.24 297.22 L665.36 297.33 L665.48 297.27 L665.60 298.00 L665.72 297.21 L665.84 297.06 L665.96 298.80 L666.08 298.58 L666.20 297.39 L666.32 298.25 L666.44 298.11 L666.56 297.36 L666.68 297.67 L666.80 297.44 L666.92 297.01 L667.04 297.71 L667.16 297.02 L667.28 297.66 L667.40 297.84 L667.52 298.04 L667.64 298.47 L667.76 297.16 L667.88 297.39 L668.00 298.19 L668.12 297.82 L668.24 297.44 L668.36 296.92 L668.48 296.93 L668.60 298.12 L668.72 297.27 L668.84 298.33 L668.96 298.33 L669.08 298.64 L669.20 298.22 L669.32 297.51 L669.44 298.05 L669.56 297.44 L669.68 297.09 L669.80 299.02 L669.92 298.93 L670.04 298.19 L670.16 298.63 L670.28 298.58 L670.40 297.89 L670.52 297.59 L670.64 297.57 L670.76 298.99 L670.88 299.19 L671.00 298.34 L671.12 299.20 L671.24 298.59 L671.36 298.57 L671.48 298.29 L671.60 298.78 L671.72 298.23 L671.84 299.01 L671.96 299.16 L672.08 298.80 L672.20 298.00 L672.32 297.90 L672.44 298.89 L672.56 298.44 L672.68 298.43 L672.80 297.44 L672.92 299.03 L673.04 298.01 L673.16 298.59 L673.28 298.07 L673.40 299.36 L673.52 299.25 L673.64 298.14 L673.76 298.80 L673.88 299.13 L674.00 298.95 L674.12 297.74 L674.24 297.72 L674.36 298.16 L674.48 298.41 L674.60 298.11 L674.72 298.00 L674.84 298.13 L674.96 299.31 L675.08 299.00 L675.20 297.97 L675.32 298.43 L675.44 299.11 L675.56 298.52 L675.68 298.93 L675.80 298.58 L675.92 299.62 L676.04 298.61 L676.16 298.30 L676.28 299.01 L676.40 298.22 L676.52 298.46 L676.64 299.55 L676.76 299.51 L676.88 298.38 L677.00 297.97 L677.12 299.24 L677.24 298.54 L677.36 299.09 L677.48 298.07 L677.60 297.62 L677.72 297.73 L677.84 298.30 L677.96 299.69 L678.08 299.97 L678.20 299.02 L678.32 299.22 L678.44 299.76 L678.56 299.75 L678.68 299.91 L678.80 299.87 L678.92 298.98 L679.04 299.36 L679.16 298.88 L679.28 299.43 L679.40 299.42 L679.52 298.88 L679.64 300.01 L679.76 298.99 L679.88 299.43 L680.00 299.75 L680.12 299.60 L680.24 299.51 L680.36 299.63 L680.48 298.51 L680.60 298.90 L680.72 299.30 L680.84 300.59 L680.96 299.41 L681.08 299.10 L681.20 300.36 L681.32 298.90 L681.44 298.60 L681.56 299.36 L681.68 299.48 L681.80 299.27 L681.92 299.36 L682.04 299.60 L682.16 299.33 L682.28 299.74 L682.40 299.42 L682.52 300.40 L682.64 299.79 L682.76 299.83 L682.88 299.72 L683.00 299.21 L683.12 298.75 L683.24 299.52 L683.36 299.96 L683.48 300.83 L683.60 300.43 L683.72 299.94 L683.84 298.88 L683.96 299.94 L684.08 300.33 L684.20 299.53 L684.32 299.72 L684.44 300.89 L684.56 300.15 L684.68 299.50 L684.80 300.36 L684.92 300.43 L685.04 300.62 L685.16 299.80 L685.28 300.34 L685.40 299.59 L685.52 300.25 L685.64 300.51 L685.76 299.71 L685.88 300.02 L686.00 300.28 L686.12 300.31 L686.24 300.68 L686.36 300.82 L686.48 301.72 L686.60 300.59 L686.72 300.49 L686.84 299.89 L686.96 300.89 L687.08 300.15 L687.20 301.04 L687.32 300.26 L687.44 301.36 L687.56 299.82 L687.68 299.93 L687.80 301.19 L687.92 300.04 L688.04 300.52 L688.16 300.17 L688.28 300.54 L688.40 300.61 L688.52 300.22 L688.64 300.27 L688.76 300.67 L688.88 299.80 L689.00 300.92 L689.12 299.86 L689.24 301.09 L689.36 300.49 L689.48 301.20 L689.60 300.36 L689.72 301.68 L689.84 301.63 L689.96 301.54 L690.08 301.46 L690.20 301.37 L690.32 300.22 L690.44 300.80 L690.56 300.40 L690.68 300.20 L690.80 301.21 L690.92 301.42 L691.04 301.40 L691.16 300.49 L691.28 300.24 L691.40 301.21 L691.52 300.48 L691.64 301.59 L691.76 301.73 L691.88 300.57 L692.00 301.02 L692.12 299.95 L692.24 301.04 L692.36 300.58 L692.48 300.90 L692.60 301.58 L692.72 300.93 L692.84 300.55 L692.96 299.62 L693.08 299.37 L693.20 300.82 L693.32 301.38 L693.44 301.18 L693.56 300.74 L693.68 300.33 L693.80 300.27 L693.92 301.59 L694.04 301.67 L694.16 300.64 L694.28 300.77 L694.40 300.55 L694.52 300.54 L694.64 300.54 L694.76 300.72 L694.88 300.02 L695.00 300.30 L695.12 300.33 L695.24 301.52 L695.36 301.52 L695.48 302.49 L695.60 302.41 L695.72 301.88 L695.84 301.37 L695.96 301.69 L696.08 301.58 L696.20 301.68 L696.32 302.47 L696.44 302.36 L696.56 302.28 L696.68 301.79 L696.80 301.85 L696.92 301.80 L697.04 302.34 L697.16 302.20 L697.28 302.34 L697.40 301.97 L697.52 301.55 L697.64 302.45 L697.76 302.18 L697.88 302.74 L698.00 301.81 L698.12 301.27 L698.24 302.36 L698.36 301.04 L698.48 301.31 L698.60 302.50 L698.72 302.65 L698.84 301.96 L698.96 301.63 L699.08 301.20 L699.20 301.58 L699.32 301.93 L699.44 300.86 L699.56 301.49 L699.68 302.15 L699.80 302.29 L699.92 301.51 L700.04 301.80 L700.16 302.04 L700.28 302.06 L700.40 302.50 L700.52 301.91 L700.64 301.74 L700.76 303.18 L700.88 302.63 L701.00 301.34 L701.12 302.48 L701.24 301.64 L701.36 302.00 L701.48 302.08 L701.60 302.39 L701.72 302.78 L701.84 301.65 L701.96 301.88 L702.08 302.15 L702.20 302.38 L702.32 302.22 L702.44 302.09 L702.56 302.12 L702.68 302.97 L702.80 302.99 L702.92 301.73 L703.04 301.63 L703.16 302.48 L703.28 302.21 L703.40 303.60 L703.52 302.88 L703.64 302.25 L703.76 302.72 L703.88 301.84 L704.00 302.53 L704.12 302.50 L704.24 301.75 L704.36 303.14 L704.48 302.97 L704.60 302.56 L704.72 302.62 L704.84 301.81 L704.96 302.18 L705.08 301.88 L705.20 302.56 L705.32 301.69 L705.44 301.28 L705.56 301.96 L705.68 301.66 L705.80 302.50 L705.92 303.28 L706.04 303.67 L706.16 302.99 L706.28 303.79 L706.40 303.00 L706.52 302.99 L706.64 303.33 L706.76 302.54 L706.88 301.20 L707.00 301.56 L707.12 302.12 L707.24 303.37 L707.36 303.50 L707.48 303.01 L707.60 302.07 L707.72 303.25 L707.84 304.00 L707.96 303.07 L708.08 302.61 L708.20 303.91 L708.32 303.88 L708.44 303.63 L708.56 302.75 L708.68 303.59 L708.80 302.66 L708.92 302.87 L709.04 302.53 L709.16 302.81 L709.28 303.90 L709.40 303.70 L709.52 303.60 L709.64 303.03 L709.76 302.44 L709.88 302.25 L710.00 302.53 L710.12 304.55 L710.24 304.02 L710.36 303.32 L710.48 303.68 L710.60 303.90 L710.72 303.48 L710.84 303.38 L710.96 304.01 L711.08 304.35 L711.20 303.34 L711.32 303.68 L711.44 304.28 L711.56 302.59 L711.68 302.72 L711.80 302.87 L711.92 303.05 L712.04 303.83 L712.16 304.68 L712.28 303.92 L712.40 304.06 L712.52 303.04 L712.64 303.25 L712.76 304.39 L712.88 303.28 L713.00 303.35 L713.12 303.74 L713.24 304.58 L713.36 304.22 L713.48 304.96 L713.60 305.16 L713.72 304.62 L713.84 305.40 L713.96 304.64 L714.08 304.36 L714.20 304.30 L714.32 305.47 L714.44 304.48 L714.56 304.13 L714.68 304.08 L714.80 304.24 L714.92 303.91 L715.04 304.02 L715.16 304.94 L715.28 305.00 L715.40 305.13 L715.52 304.71 L715.64 304.93 L715.76 304.66 L715.88 303.83 L716.00 303.93 L716.12 304.75 L716.24 304.73 L716.36 305.03 L716.48 304.55 L716.60 303.99 L716.72 303.79 L716.84 304.19 L716.96 302.92 L717.08 303.34 L717.20 304.09 L717.32 303.23 L717.44 304.19 L717.56 303.31 L717.68 304.21 L717.80 304.99 L717.92 304.33 L718.04 304.43 L718.16 304.49 L718.28 305.46 L718.40 306.00 L718.52 305.44 L718.64 305.25 L718.76 304.03 L718.88 303.70 L719.00 304.51 L719.12 304.25 L719.24 306.00 L719.36 305.41 L719.48 306.13 L719.60 305.32 L719.72 304.94 L719.84 304.42 L719.96 305.41 L720.08 304.21 L720.20 305.29 L720.32 305.53 L720.44 306.38 L720.56 306.03 L720.68 304.49 L720.80 305.48 L720.92 305.36 L721.04 304.09 L721.16 306.11 L721.28 306.86 L721.40 307.15 L721.52 306.96 L721.64 305.95 L721.76 304.75 L721.88 304.58 L722.00 305.29 L722.12 304.36 L722.24 305.34 L722.36 305.76 L722.48 304.98 L722.60 305.50 L722.72 305.21 L722.84 304.87 L722.96 304.81 L723.08 304.74 L723.20 305.06 L723.32 304.21 L723.44 303.86 L723.56 306.08 L723.68 305.19 L723.80 306.01 L723.92 305.85 L724.04 304.98 L724.16 305.32 L724.28 305.11 L724.40 304.73 L724.52 305.32 L724.64 305.89 L724.76 306.24 L724.88 305.16 L725.00 304.93 L725.12 304.65 L725.24 306.22 L725.36 304.83 L725.48 304.08 L725.60 303.58 L725.72 304.31 L725.84 304.54 L725.96 304.43 L726.08 304.70 L726.20 303.97 L726.32 305.11 L726.44 305.86 L726.56 304.95 L726.68 305.39 L726.80 304.72 L726.92 305.72 L727.04 305.84 L727.16 305.26 L727.28 305.01 L727.40 306.81 L727.52 306.11 L727.64 305.64 L727.76 306.64 L727.88 305.26 L728.00 306.22 L728.12 305.46 L728.24 304.84 L728.36 306.69 L728.48 306.99 L728.60 305.66 L728.72 305.99 L728.84 305.97 L728.96 306.34 L729.08 306.35 L729.20 306.23 L729.32 307.49 L729.44 307.30 L729.56 306.18 L729.68 307.71 L729.80 306.76 L729.92 306.53 L730.04 306.72 L730.16 306.81 L730.28 305.63 L730.40 306.58 L730.52 305.81 L730.64 306.01 L730.76 306.32 L730.88 305.90 L731.00 305.51 L731.12 305.35 L731.24 306.53 L731.36 305.94 L731.48 306.40 L731.60 307.18 L731.72 306.56 L731.84 306.81 L731.96 307.52 L732.08 306.59 L732.20 306.08 L732.32 306.31 L732.44 306.28 L732.56 307.21 L732.68 306.13 L732.80 306.36 L732.92 307.39 L733.04 306.16 L733.16 305.99 L733.28 306.42 L733.40 305.41 L733.52 305.84 L733.64 306.20 L733.76 306.59 L733.88 306.78 L734.00 307.02 L734.12 306.29 L734.24 306.53 L734.36 307.37 L734.48 307.57 L734.60 306.35 L734.72 305.94 L734.84 306.08 L734.96 307.14 L735.08 306.87 L735.20 307.02 L735.32 306.99 L735.44 307.37 L735.56 307.45 L735.68 306.66 L735.80 307.21 L735.92 307.95 L736.04 306.64 L736.16 306.65 L736.28 307.05 L736.40 306.79 L736.52 306.46 L736.64 307.11 L736.76 306.01 L736.88 306.13 L737.00 307.85 L737.12 306.71 L737.24 306.43 L737.36 306.58 L737.48 307.48 L737.60 306.28 L737.72 306.85 L737.84 307.19 L737.96 306.23 L738.08 306.66 L738.20 307.40 L738.32 306.68 L738.44 306.46 L738.56 306.80 L738.68 307.20 L738.80 306.43 L738.92 307.16 L739.04 306.95 L739.16 307.36 L739.28 308.01 L739.40 308.11 L739.52 307.47 L739.64 306.92 L739.76 307.69 L739.88 306.93 L740.00 307.00 L740.12 307.03 L740.24 308.30 L740.36 308.08 L740.48 307.12 L740.60 308.61 L740.72 307.76 L740.84 305.85 L740.96 306.68 L741.08 306.43 L741.20 306.63 L741.32 307.52 L741.44 307.18 L741.56 306.85 L741.68 307.91 L741.80 307.50 L741.92 307.43 L742.04 307.75 L742.16 307.57 L742.28 308.72 L742.40 308.43 L742.52 308.76 L742.64 307.66 L742.76 308.21 L742.88 308.68 L743.00 308.47 L743.12 307.88 L743.24 308.47 L743.36 308.23 L743.48 307.79 L743.60 308.50 L743.72 307.89 L743.84 307.90 L743.96 308.07 L744.08 308.01 L744.20 307.59 L744.32 306.58 L744.44 307.78 L744.56 306.31 L744.68 306.77 L744.80 307.34 L744.92 307.68 L745.04 307.71 L745.16 308.03 L745.28 308.71 L745.40 308.17 L745.52 308.28 L745.64 308.42 L745.76 308.47 L745.88 309.44 L746.00 309.35 L746.12 307.19 L746.24 308.05 L746.36 307.34 L746.48 307.01 L746.60 308.08 L746.72 309.19 L746.84 309.08 L746.96 308.86 L747.08 308.11 L747.20 309.19 L747.32 308.74 L747.44 308.86 L747.56 308.14 L747.68 307.33 L747.80 307.36 L747.92 307.04 L748.04 307.80 L748.16 308.58 L748.28 308.29 L748.40 307.73 L748.52 308.23 L748.64 308.85 L748.76 309.18 L748.88 308.49 L749.00 307.65 L749.12 309.17 L749.24 309.08 L749.36 308.69 L749.48 308.70 L749.60 309.37 L749.72 309.13 L749.84 308.81 L749.96 308.74 L750.08 308.92 L750.20 308.93 L750.32 308.58 L750.44 308.69 L750.56 309.61 L750.68 308.49 L750.80 309.18 L750.92 308.45 L751.04 307.86 L751.16 307.63 L751.28 308.41 L751.40 308.19 L751.52 307.59 L751.64 307.36 L751.76 308.20 L751.88 307.72 L752.00 308.37 L752.12 308.95 L752.24 309.08 L752.36 309.69 L752.48 309.74 L752.60 309.01 L752.72 309.60 L752.84 309.42 L752.96 310.36 L753.08 309.67 L753.20 310.07 L753.32 308.96 L753.44 308.46 L753.56 309.27 L753.68 308.63 L753.80 308.57 L753.92 309.52 L754.04 309.23 L754.16 308.20 L754.28 307.42 L754.40 308.24 L754.52 308.10 L754.64 307.82 L754.76 310.48 L754.88 309.51 L755.00 310.10 L755.12 309.56 L755.24 308.16 L755.36 308.08 L755.48 307.90 L755.60 307.97 L755.72 309.14 L755.84 309.35 L755.96 310.42 L756.08 309.15 L756.20 309.82 L756.32 309.43 L756.44 309.81 L756.56 309.20 L756.68 308.28 L756.80 308.26 L756.92 308.73 L757.04 307.90 L757.16 308.92 L757.28 308.28 L757.40 309.54 L757.52 308.85 L757.64 310.20 L757.76 310.32 L757.88 309.51 L758.00 310.30 L758.12 310.22 L758.24 310.67 L758.36 310.66 L758.48 309.64 L758.60 309.50 L758.72 309.12 L758.84 308.52 L758.96 308.86 L759.08 308.58 L759.20 309.14 L759.32 308.84 L759.44 308.56 L759.56 310.25 L759.68 309.26 L759.80 310.20 L759.92 310.16 L760.04 309.78 L760.16 310.63 L760.28 310.63 L760.40 310.61 L760.52 309.90 L760.64 309.86 L760.76 309.10 L760.88 308.90 L761.00 308.75 L761.12 309.10 L761.24 309.63 L761.36 309.94 L761.48 309.83 L761.60 310.44 L761.72 309.87 L761.84 311.03 L761.96 310.62 L762.08 309.31 L762.20 309.31 L762.32 310.53 L762.44 309.39 L762.56 309.28 L762.68 310.29 L762.80 310.18 L762.92 309.54 L763.04 309.58 L763.16 310.66 L763.28 310.68 L763.40 310.15 L763.52 310.12 L763.64 310.72 L763.76 309.68 L763.88 310.26 L764.00 309.90 L764.12 310.04 L764.24 310.02 L764.36 309.97 L764.48 310.66 L764.60 310.95 L764.72 309.79 L764.84 309.62 L764.96 310.22 L765.08 310.43 L765.20 310.61 L765.32 309.41 L765.44 309.99 L765.56 308.83 L765.68 309.33 L765.80 309.92 L765.92 311.29 L766.04 311.31 L766.16 310.74 L766.28 311.03 L766.40 310.66 L766.52 311.29 L766.64 311.01 L766.76 310.46 L766.88 310.39 L767.00 310.77 L767.12 309.90 L767.24 310.25 L767.36 309.73 L767.48 310.25 L767.60 311.08 L767.72 310.49 L767.84 310.86 L767.96 309.84 L768.08 309.78 L768.20 310.48 L768.32 311.43 L768.44 310.51 L768.56 310.41 L768.68 310.70 L768.80 310.44 L768.92 309.80 L769.04 310.37 L769.16 309.52 L769.28 309.77 L769.40 310.01 L769.52 310.73 L769.64 310.86 L769.76 310.50 L769.88 311.34 L770.00 311.64 L770.12 310.97 L770.24 310.07 L770.36 311.11 L770.48 309.90 L770.60 309.96 L770.72 310.97 L770.84 310.91 L770.96 310.61 L771.08 311.26 L771.20 310.61 L771.32 311.67 L771.44 310.82 L771.56 311.08 L771.68 311.27 L771.80 310.68 L771.92 309.88 L772.04 311.21 L772.16 311.51 L772.28 310.36 L772.40 311.58 L772.52 309.58 L772.64 310.67 L772.76 310.98 L772.88 311.06 L773.00 310.81 L773.12 312.24 L773.24 311.95 L773.36 312.15 L773.48 310.40 L773.60 309.84 L773.72 310.54 L773.84 310.66 L773.96 311.28 L774.08 311.69 L774.20 312.15 L774.32 312.11 L774.44 310.17 L774.56 310.72 L774.68 311.02 L774.80 310.99 L774.92 310.03 L775.04 310.42 L775.16 310.34 L775.28 310.68 L775.40 310.40 L775.52 310.37 L775.64 311.32 L775.76 310.82 L775.88 311.18 L776.00 311.03 L776.12 311.35 L776.24 312.10 L776.36 311.47 L776.48 311.80 L776.60 311.78 L776.72 312.10 L776.84 310.25 L776.96 311.33 L777.08 310.53 L777.20 310.59 L777.32 309.96 L777.44 311.06 L777.56 309.93 L777.68 310.77 L777.80 311.30 L777.92 312.24 L778.04 311.54 L778.16 311.14 L778.28 312.05 L778.40 310.94 L778.52 311.24 L778.64 310.87 L778.76 311.12 L778.88 311.53 L779.00 310.88 L779.12 310.83 L779.24 311.47 L779.36 311.12 L779.48 312.07 L779.60 312.09 L779.72 310.42 L779.84 311.39 L779.96 310.84 L780.08 310.55 L780.20 312.20 L780.32 311.68 L780.44 311.49 L780.56 311.81 L780.68 311.14 L780.80 311.95 L780.92 311.44 L781.04 312.43 L781.16 312.32 L781.28 312.64 L781.40 312.88 L781.52 311.51 L781.64 312.17 L781.76 311.59 L781.88 311.70 L782.00 311.86 L782.12 311.13 L782.24 311.50 L782.36 310.46 L782.48 311.14 L782.60 312.39 L782.72 311.85 L782.84 311.49 L782.96 312.74 L783.08 311.03 L783.20 311.95 L783.32 311.91 L783.44 311.99 L783.56 312.34 L783.68 312.40 L783.80 311.21 L783.92 312.00 L784.04 310.71 L784.16 310.25 L784.28 310.58 L784.40 309.50 L784.52 311.30 L784.64 311.28 L784.76 311.84 L784.88 311.08 L785.00 312.62 L785.10 312.29" fill="none" stroke="#ff0000" stroke-width="2.3" stroke-linejoin="round" clip-path="url(#c1)"/>
<rect x="197.50" y="352.94" width="10.4" height="10.4" fill="none" stroke="#ff0000" stroke-width="2.4"/>
<rect x="262.50" y="335.80" width="10.4" height="10.4" fill="none" stroke="#ff0000" stroke-width="2.4"/>
<rect x="355.80" y="297.13" width="10.4" height="10.4" fill="none" stroke="#ff0000" stroke-width="2.4"/>
<rect x="427.10" y="269.20" width="10.4" height="10.4" fill="none" stroke="#ff0000" stroke-width="2.4"/>
<rect x="523.10" y="268.77" width="10.4" height="10.4" fill="none" stroke="#ff0000" stroke-width="2.4"/>
<rect x="595.20" y="281.70" width="10.4" height="10.4" fill="none" stroke="#ff0000" stroke-width="2.4"/>
<rect x="691.70" y="296.30" width="10.4" height="10.4" fill="none" stroke="#ff0000" stroke-width="2.4"/>
<rect x="763.40" y="305.30" width="10.4" height="10.4" fill="none" stroke="#ff0000" stroke-width="2.4"/>
<path d="M111.00 164.20 L113.00 164.24 L115.00 164.28 L117.00 164.33 L119.00 164.38 L121.00 164.43 L123.00 164.48 L125.00 164.54 L127.00 164.59 L129.00 164.65 L131.00 164.72 L133.00 164.78 L135.00 164.85 L137.00 164.91 L139.00 164.98 L141.00 165.05 L143.00 165.13 L145.00 165.20 L147.00 165.28 L149.00 165.35 L151.00 165.43 L153.00 165.51 L155.00 165.59 L157.00 165.68 L159.00 165.76 L161.00 165.84 L163.00 165.93 L165.00 166.02 L167.00 166.11 L169.00 166.21 L171.00 166.30 L173.00 166.40 L175.00 166.51 L177.00 166.62 L179.00 166.72 L181.00 166.84 L183.00 166.95 L185.00 167.07 L187.00 167.19 L189.00 167.32 L191.00 167.45 L193.00 167.58 L195.00 167.71 L197.00 167.85 L199.00 167.99 L201.00 168.13 L203.00 168.28 L205.00 168.44 L207.00 168.60 L209.00 168.77 L211.00 168.95 L213.00 169.14 L215.00 169.33 L217.00 169.53 L219.00 169.73 L221.00 169.94 L223.00 170.16 L225.00 170.37 L227.00 170.59 L229.00 170.81 L231.00 171.04 L233.00 171.26 L235.00 171.49 L237.00 171.71 L239.00 171.95 L241.00 172.18 L243.00 172.42 L245.00 172.67 L247.00 172.92 L249.00 173.17 L251.00 173.43 L253.00 173.69 L255.00 173.96 L257.00 174.24 L259.00 174.52 L261.00 174.80 L263.00 175.09 L265.00 175.39 L267.00 175.69 L269.00 176.00 L271.00 176.31 L273.00 176.62 L275.00 176.95 L277.00 177.28 L279.00 177.61 L281.00 177.96 L283.00 178.31 L285.00 178.67 L287.00 179.04 L289.00 179.42 L291.00 179.81 L293.00 180.21 L295.00 180.62 L297.00 181.04 L299.00 181.48 L301.00 181.93 L303.00 182.39 L305.00 182.87 L307.00 183.36 L309.00 183.87 L311.00 184.38 L313.00 184.90 L315.00 185.44 L317.00 185.98 L319.00 186.53 L321.00 187.09 L323.00 187.66 L325.00 188.23 L327.00 188.81 L329.00 189.39 L331.00 189.98 L333.00 190.57 L335.00 191.17 L337.00 191.76 L339.00 192.36 L341.00 192.96 L343.00 193.56 L345.00 194.17 L347.00 194.79 L349.00 195.43 L351.00 196.07 L353.00 196.71 L355.00 197.37 L357.00 198.04 L359.00 198.71 L361.00 199.39 L363.00 200.07 L365.00 200.76 L367.00 201.45 L369.00 202.15 L371.00 202.85 L373.00 203.55 L375.00 204.25 L377.00 204.96 L379.00 205.67 L381.00 206.39 L383.00 207.11 L385.00 207.83 L387.00 208.57 L389.00 209.30 L391.00 210.05 L393.00 210.80 L395.00 211.56 L397.00 212.32 L399.00 213.10 L401.00 213.88 L403.00 214.67 L405.00 215.47 L407.00 216.29 L409.00 217.12 L411.00 217.97 L413.00 218.83 L415.00 219.71 L417.00 220.60 L419.00 221.50 L421.00 222.40 L423.00 223.31 L425.00 224.22 L427.00 225.13 L429.00 226.03 L431.00 226.93 L433.00 227.83 L435.00 228.71 L437.00 229.59 L439.00 230.47 L441.00 231.36 L443.00 232.24 L445.00 233.12 L447.00 234.01 L449.00 234.89 L451.00 235.77 L453.00 236.64 L455.00 237.52 L457.00 238.39 L459.00 239.26 L461.00 240.12 L463.00 240.97 L465.00 241.82 L467.00 242.67 L469.00 243.50 L471.00 244.33 L473.00 245.16 L475.00 245.97 L477.00 246.79 L479.00 247.60 L481.00 248.40 L483.00 249.20 L485.00 250.01 L487.00 250.81 L489.00 251.60 L491.00 252.39 L493.00 253.17 L495.00 253.93 L497.00 254.69 L499.00 255.43 L501.00 256.15 L503.00 256.87 L505.00 257.58 L507.00 258.29 L509.00 258.99 L511.00 259.69 L513.00 260.38 L515.00 261.08 L517.00 261.78 L519.00 262.48 L521.00 263.17 L523.00 263.85 L525.00 264.52 L527.00 265.17 L529.00 265.81 L531.00 266.44 L533.00 267.06 L535.00 267.67 L537.00 268.28 L539.00 268.87 L541.00 269.46 L543.00 270.04 L545.00 270.61 L547.00 271.18 L549.00 271.73 L551.00 272.28 L553.00 272.82 L555.00 273.36 L557.00 273.90 L559.00 274.44 L561.00 274.98 L563.00 275.51 L565.00 276.04 L567.00 276.58 L569.00 277.10 L571.00 277.63 L573.00 278.15 L575.00 278.67 L577.00 279.19 L579.00 279.70 L581.00 280.22 L583.00 280.73 L585.00 281.24 L587.00 281.74 L589.00 282.24 L591.00 282.72 L593.00 283.21 L595.00 283.68 L597.00 284.16 L599.00 284.63 L601.00 285.09 L603.00 285.54 L605.00 285.97 L607.00 286.40 L609.00 286.81 L611.00 287.21 L613.00 287.60 L615.00 287.98 L617.00 288.36 L619.00 288.73 L621.00 289.10 L623.00 289.47 L625.00 289.84 L627.00 290.20 L629.00 290.56 L631.00 290.92 L633.00 291.28 L635.00 291.64 L637.00 291.99 L639.00 292.35 L641.00 292.72 L643.00 293.09 L645.00 293.47 L647.00 293.85 L649.00 294.23 L651.00 294.60 L653.00 294.97 L655.00 295.33 L657.00 295.67 L659.00 296.02 L661.00 296.36 L663.00 296.70 L665.00 297.03 L667.00 297.35 L669.00 297.66 L671.00 297.97 L673.00 298.26 L675.00 298.54 L677.00 298.81 L679.00 299.07 L681.00 299.32 L683.00 299.57 L685.00 299.81 L687.00 300.05 L689.00 300.30 L691.00 300.54 L693.00 300.79 L695.00 301.05 L697.00 301.31 L699.00 301.59 L701.00 301.87 L703.00 302.15 L705.00 302.44 L707.00 302.74 L709.00 303.03 L711.00 303.33 L713.00 303.63 L715.00 303.92 L717.00 304.22 L719.00 304.51 L721.00 304.80 L723.00 305.08 L725.00 305.36 L727.00 305.63 L729.00 305.89 L731.00 306.14 L733.00 306.39 L735.00 306.63 L737.00 306.87 L739.00 307.12 L741.00 307.35 L743.00 307.59 L745.00 307.82 L747.00 308.05 L749.00 308.28 L751.00 308.50 L753.00 308.72 L755.00 308.93 L757.00 309.15 L759.00 309.35 L761.00 309.56 L763.00 309.76 L765.00 309.96 L767.00 310.15 L769.00 310.34 L771.00 310.52 L773.00 310.70 L775.00 310.87 L777.00 311.04 L779.00 311.20 L781.00 311.36 L783.00 311.52 L785.00 311.67 L785.10 311.68" fill="none" stroke="#a0a0a0" stroke-width="3.6" stroke-dasharray="6.9 9.63" stroke-dashoffset="0.0" clip-path="url(#c1)"/>
<path d="M111.00 373.90 L113.00 373.68 L115.00 373.45 L117.00 373.23 L119.00 373.01 L121.00 372.79 L123.00 372.58 L125.00 372.36 L127.00 372.14 L129.00 371.93 L131.00 371.71 L133.00 371.50 L135.00 371.29 L137.00 371.08 L139.00 370.87 L141.00 370.66 L143.00 370.45 L145.00 370.24 L147.00 370.04 L149.00 369.84 L151.00 369.65 L153.00 369.47 L155.00 369.29 L157.00 369.11 L159.00 368.93 L161.00 368.75 L163.00 368.57 L165.00 368.39 L167.00 368.20 L169.00 368.01 L171.00 367.81 L173.00 367.59 L175.00 367.37 L177.00 367.14 L179.00 366.89 L181.00 366.63 L183.00 366.34 L185.00 366.03 L187.00 365.71 L189.00 365.37 L191.00 365.01 L193.00 364.64 L195.00 364.25 L197.00 363.86 L199.00 363.46 L201.00 363.05 L203.00 362.64 L205.00 362.22 L207.00 361.80 L209.00 361.39 L211.00 360.97 L213.00 360.55 L215.00 360.12 L217.00 359.68 L219.00 359.23 L221.00 358.78 L223.00 358.32 L225.00 357.85 L227.00 357.38 L229.00 356.90 L231.00 356.42 L233.00 355.93 L235.00 355.44 L237.00 354.94 L239.00 354.43 L241.00 353.92 L243.00 353.41 L245.00 352.89 L247.00 352.36 L249.00 351.82 L251.00 351.27 L253.00 350.71 L255.00 350.15 L257.00 349.57 L259.00 348.99 L261.00 348.41 L263.00 347.82 L265.00 347.24 L267.00 346.66 L269.00 346.09 L271.00 345.51 L273.00 344.93 L275.00 344.34 L277.00 343.74 L279.00 343.14 L281.00 342.51 L283.00 341.88 L285.00 341.22 L287.00 340.54 L289.00 339.84 L291.00 339.11 L293.00 338.35 L295.00 337.54 L297.00 336.70 L299.00 335.82 L301.00 334.91 L303.00 333.98 L305.00 333.02 L307.00 332.05 L309.00 331.06 L311.00 330.06 L313.00 329.06 L315.00 328.06 L317.00 327.06 L319.00 326.07 L321.00 325.09 L323.00 324.12 L325.00 323.15 L327.00 322.17 L329.00 321.19 L331.00 320.21 L333.00 319.22 L335.00 318.22 L337.00 317.23 L339.00 316.23 L341.00 315.22 L343.00 314.21 L345.00 313.20 L347.00 312.19 L349.00 311.18 L351.00 310.16 L353.00 309.14 L355.00 308.10 L357.00 307.06 L359.00 306.00 L361.00 304.94 L363.00 303.88 L365.00 302.81 L367.00 301.75 L369.00 300.69 L371.00 299.63 L373.00 298.59 L375.00 297.56 L377.00 296.54 L379.00 295.54 L381.00 294.56 L383.00 293.60 L385.00 292.66 L387.00 291.73 L389.00 290.81 L391.00 289.89 L393.00 288.98 L395.00 288.06 L397.00 287.13 L399.00 286.18 L401.00 285.23 L403.00 284.27 L405.00 283.32 L407.00 282.39 L409.00 281.48 L411.00 280.59 L413.00 279.75 L415.00 278.91 L417.00 278.06 L419.00 277.22 L421.00 276.39 L423.00 275.60 L425.00 274.84 L427.00 274.12 L429.00 273.46 L431.00 272.87 L433.00 272.34 L435.00 271.83 L437.00 271.33 L439.00 270.84 L441.00 270.37 L443.00 269.92 L445.00 269.49 L447.00 269.10 L449.00 268.73 L451.00 268.39 L453.00 268.10 L455.00 267.84 L457.00 267.63 L459.00 267.46 L461.00 267.31 L463.00 267.17 L465.00 267.04 L467.00 266.92 L469.00 266.82 L471.00 266.75 L473.00 266.71 L475.00 266.70 L477.00 266.73 L479.00 266.78 L481.00 266.85 L483.00 266.94 L485.00 267.05 L487.00 267.17 L489.00 267.29 L491.00 267.42 L493.00 267.57 L495.00 267.76 L497.00 267.97 L499.00 268.22 L501.00 268.49 L503.00 268.78 L505.00 269.09 L507.00 269.42 L509.00 269.78 L511.00 270.22 L513.00 270.71 L515.00 271.24 L517.00 271.79 L519.00 272.34 L521.00 272.87 L523.00 273.45 L525.00 274.03 L527.00 274.56 L529.00 275.00 L531.00 275.35 L533.00 275.65 L535.00 275.93 L537.00 276.22 L539.00 276.53 L541.00 276.87 L543.00 277.21 L545.00 277.56 L547.00 277.92 L549.00 278.28 L551.00 278.65 L553.00 279.02 L555.00 279.39 L557.00 279.76 L559.00 280.13 L561.00 280.51 L563.00 280.88 L565.00 281.25 L567.00 281.61 L569.00 281.98 L571.00 282.35 L573.00 282.72 L575.00 283.08 L577.00 283.45 L579.00 283.82 L581.00 284.20 L583.00 284.57 L585.00 284.94 L587.00 285.31 L589.00 285.68 L591.00 286.05 L593.00 286.42 L595.00 286.80 L597.00 287.18 L599.00 287.55 L601.00 287.91 L603.00 288.26 L605.00 288.62 L607.00 288.98 L609.00 289.33 L611.00 289.69 L613.00 290.04 L615.00 290.40 L617.00 290.75 L619.00 291.10 L621.00 291.44 L623.00 291.79 L625.00 292.13 L627.00 292.47 L629.00 292.81 L631.00 293.15 L633.00 293.48 L635.00 293.81 L637.00 294.14 L639.00 294.46 L641.00 294.78 L643.00 295.10 L645.00 295.41 L647.00 295.71 L649.00 296.02 L651.00 296.31 L653.00 296.61 L655.00 296.89 L657.00 297.18 L659.00 297.45 L661.00 297.73 L663.00 297.99 L665.00 298.26 L667.00 298.52 L669.00 298.78 L671.00 299.04 L673.00 299.30 L675.00 299.55 L677.00 299.80 L679.00 300.06 L681.00 300.31 L683.00 300.57 L685.00 300.82 L687.00 301.08 L689.00 301.34 L691.00 301.61 L693.00 301.87 L695.00 302.14 L697.00 302.41 L699.00 302.69 L701.00 302.98 L703.00 303.27 L705.00 303.56 L707.00 303.85 L709.00 304.15 L711.00 304.45 L713.00 304.74 L715.00 305.04 L717.00 305.33 L719.00 305.62 L721.00 305.91 L723.00 306.19 L725.00 306.46 L727.00 306.73 L729.00 306.99 L731.00 307.24 L733.00 307.49 L735.00 307.73 L737.00 307.97 L739.00 308.22 L741.00 308.45 L743.00 308.69 L745.00 308.92 L747.00 309.15 L749.00 309.38 L751.00 309.60 L753.00 309.82 L755.00 310.03 L757.00 310.25 L759.00 310.45 L761.00 310.66 L763.00 310.86 L765.00 311.06 L767.00 311.25 L769.00 311.44 L771.00 311.62 L773.00 311.80 L775.00 311.97 L777.00 312.14 L779.00 312.30 L781.00 312.46 L783.00 312.62 L785.00 312.77 L785.10 312.78" fill="none" stroke="#ff0000" stroke-width="3.6" stroke-dasharray="6.9 9.63" stroke-dashoffset="0.0" clip-path="url(#c1)"/>
</g>
<g id="bot">
<path d="M161.73 784.70 v-3.6 M161.73 401.30 v3.6" stroke="#000" stroke-width="0.85" opacity="0.7"/>
<path d="M191.41 784.70 v-3.6 M191.41 401.30 v3.6" stroke="#000" stroke-width="0.85" opacity="0.7"/>
<path d="M212.46 784.70 v-3.6 M212.46 401.30 v3.6" stroke="#000" stroke-width="0.85" opacity="0.7"/>
<path d="M228.79 784.70 v-3.6 M228.79 401.30 v3.6" stroke="#000" stroke-width="0.85" opacity="0.7"/>
<path d="M242.14 784.70 v-3.6 M242.14 401.30 v3.6" stroke="#000" stroke-width="0.85" opacity="0.7"/>
<path d="M253.42 784.70 v-3.6 M253.42 401.30 v3.6" stroke="#000" stroke-width="0.85" opacity="0.7"/>
<path d="M263.19 784.70 v-3.6 M263.19 401.30 v3.6" stroke="#000" stroke-width="0.85" opacity="0.7"/>
<path d="M271.81 784.70 v-3.6 M271.81 401.30 v3.6" stroke="#000" stroke-width="0.85" opacity="0.7"/>
<path d="M279.52 784.70 v-6.9 M279.52 401.30 v6.9" stroke="#000" stroke-width="0.9"/>
<path d="M330.26 784.70 v-3.6 M330.26 401.30 v3.6" stroke="#000" stroke-width="0.85" opacity="0.7"/>
<path d="M359.93 784.70 v-3.6 M359.93 401.30 v3.6" stroke="#000" stroke-width="0.85" opacity="0.7"/>
<path d="M380.99 784.70 v-3.6 M380.99 401.30 v3.6" stroke="#000" stroke-width="0.85" opacity="0.7"/>
<path d="M397.32 784.70 v-3.6 M397.32 401.30 v3.6" stroke="#000" stroke-width="0.85" opacity="0.7"/>
<path d="M410.66 784.70 v-3.6 M410.66 401.30 v3.6" stroke="#000" stroke-width="0.85" opacity="0.7"/>
<path d="M421.95 784.70 v-3.6 M421.95 401.30 v3.6" stroke="#000" stroke-width="0.85" opacity="0.7"/>
<path d="M431.72 784.70 v-3.6 M431.72 401.30 v3.6" stroke="#000" stroke-width="0.85" opacity="0.7"/>
<path d="M440.34 784.70 v-3.6 M440.34 401.30 v3.6" stroke="#000" stroke-width="0.85" opacity="0.7"/>
<path d="M448.05 784.70 v-6.9 M448.05 401.30 v6.9" stroke="#000" stroke-width="0.9"/>
<path d="M498.78 784.70 v-3.6 M498.78 401.30 v3.6" stroke="#000" stroke-width="0.85" opacity="0.7"/>
<path d="M528.46 784.70 v-3.6 M528.46 401.30 v3.6" stroke="#000" stroke-width="0.85" opacity="0.7"/>
<path d="M549.51 784.70 v-3.6 M549.51 401.30 v3.6" stroke="#000" stroke-width="0.85" opacity="0.7"/>
<path d="M565.84 784.70 v-3.6 M565.84 401.30 v3.6" stroke="#000" stroke-width="0.85" opacity="0.7"/>
<path d="M579.19 784.70 v-3.6 M579.19 401.30 v3.6" stroke="#000" stroke-width="0.85" opacity="0.7"/>
<path d="M590.47 784.70 v-3.6 M590.47 401.30 v3.6" stroke="#000" stroke-width="0.85" opacity="0.7"/>
<path d="M600.24 784.70 v-3.6 M600.24 401.30 v3.6" stroke="#000" stroke-width="0.85" opacity="0.7"/>
<path d="M608.86 784.70 v-3.6 M608.86 401.30 v3.6" stroke="#000" stroke-width="0.85" opacity="0.7"/>
<path d="M616.58 784.70 v-6.9 M616.58 401.30 v6.9" stroke="#000" stroke-width="0.9"/>
<path d="M667.31 784.70 v-3.6 M667.31 401.30 v3.6" stroke="#000" stroke-width="0.85" opacity="0.7"/>
<path d="M696.98 784.70 v-3.6 M696.98 401.30 v3.6" stroke="#000" stroke-width="0.85" opacity="0.7"/>
<path d="M718.04 784.70 v-3.6 M718.04 401.30 v3.6" stroke="#000" stroke-width="0.85" opacity="0.7"/>
<path d="M734.37 784.70 v-3.6 M734.37 401.30 v3.6" stroke="#000" stroke-width="0.85" opacity="0.7"/>
<path d="M747.71 784.70 v-3.6 M747.71 401.30 v3.6" stroke="#000" stroke-width="0.85" opacity="0.7"/>
<path d="M759.00 784.70 v-3.6 M759.00 401.30 v3.6" stroke="#000" stroke-width="0.85" opacity="0.7"/>
<path d="M768.77 784.70 v-3.6 M768.77 401.30 v3.6" stroke="#000" stroke-width="0.85" opacity="0.7"/>
<path d="M777.39 784.70 v-3.6 M777.39 401.30 v3.6" stroke="#000" stroke-width="0.85" opacity="0.7"/>
<path d="M111.00 767.00 h6.9 M785.10 767.00 h-6.9" stroke="#000" stroke-width="0.9"/>
<path d="M111.00 697.30 h6.9 M785.10 697.30 h-6.9" stroke="#000" stroke-width="0.9"/>
<path d="M111.00 627.60 h6.9 M785.10 627.60 h-6.9" stroke="#000" stroke-width="0.9"/>
<path d="M111.00 557.90 h6.9 M785.10 557.90 h-6.9" stroke="#000" stroke-width="0.9"/>
<path d="M111.00 488.20 h6.9 M785.10 488.20 h-6.9" stroke="#000" stroke-width="0.9"/>
<path d="M111.00 418.50 h6.9 M785.10 418.50 h-6.9" stroke="#000" stroke-width="0.9"/>
<path d="M111.00 732.15 h3.6 M785.10 732.15 h-3.6" stroke="#000" stroke-width="0.85" opacity="0.7"/>
<path d="M111.00 662.45 h3.6 M785.10 662.45 h-3.6" stroke="#000" stroke-width="0.85" opacity="0.7"/>
<path d="M111.00 592.75 h3.6 M785.10 592.75 h-3.6" stroke="#000" stroke-width="0.85" opacity="0.7"/>
<path d="M111.00 523.05 h3.6 M785.10 523.05 h-3.6" stroke="#000" stroke-width="0.85" opacity="0.7"/>
<path d="M111.00 453.35 h3.6 M785.10 453.35 h-3.6" stroke="#000" stroke-width="0.85" opacity="0.7"/>
<rect x="111.00" y="401.30" width="674.10" height="383.40" fill="none" stroke="#000" stroke-width="1.5"/>
<path d="M111.00 419.20 L113.00 419.25 L115.00 419.31 L117.00 419.36 L119.00 419.42 L121.00 419.48 L123.00 419.54 L125.00 419.59 L127.00 419.65 L129.00 419.72 L131.00 419.78 L133.00 419.84 L135.00 419.90 L137.00 419.97 L139.00 420.03 L141.00 420.10 L143.00 420.17 L145.00 420.24 L147.00 420.30 L149.00 420.37 L151.00 420.44 L153.00 420.51 L155.00 420.59 L157.00 420.66 L159.00 420.73 L161.00 420.80 L163.00 420.87 L165.00 420.95 L167.00 421.02 L169.00 421.09 L171.00 421.17 L173.00 421.24 L175.00 421.32 L177.00 421.40 L179.00 421.48 L181.00 421.56 L183.00 421.64 L185.00 421.73 L187.00 421.81 L189.00 421.90 L191.00 421.99 L193.00 422.09 L195.00 422.19 L197.00 422.29 L199.00 422.39 L201.00 422.50 L203.00 422.61 L205.00 422.72 L207.00 422.85 L209.00 422.98 L211.00 423.12 L213.00 423.26 L215.00 423.41 L217.00 423.57 L219.00 423.73 L221.00 423.89 L223.00 424.06 L225.00 424.23 L227.00 424.40 L229.00 424.58 L231.00 424.75 L233.00 424.92 L235.00 425.10 L237.00 425.27 L239.00 425.44 L241.00 425.61 L243.00 425.78 L245.00 425.96 L247.00 426.13 L249.00 426.31 L251.00 426.49 L253.00 426.68 L255.00 426.87 L257.00 427.06 L259.00 427.26 L261.00 427.46 L263.00 427.67 L265.00 427.89 L267.00 428.12 L269.00 428.35 L271.00 428.60 L273.00 428.86 L275.00 429.13 L277.00 429.40 L279.00 429.69 L281.00 429.98 L283.00 430.29 L285.00 430.60 L287.00 430.91 L289.00 431.24 L291.00 431.56 L293.00 431.90 L295.00 432.23 L297.00 432.57 L299.00 432.93 L301.00 433.29 L303.00 433.66 L305.00 434.04 L307.00 434.43 L309.00 434.82 L311.00 435.22 L313.00 435.63 L315.00 436.05 L317.00 436.46 L319.00 436.89 L321.00 437.31 L323.00 437.74 L325.00 438.17 L327.00 438.60 L329.00 439.04 L331.00 439.48 L333.00 439.92 L335.00 440.37 L337.00 440.82 L339.00 441.27 L341.00 441.73 L343.00 442.20 L345.00 442.67 L347.00 443.15 L349.00 443.64 L351.00 444.13 L353.00 444.63 L355.00 445.14 L357.00 445.66 L359.00 446.18 L361.00 446.72 L363.00 447.26 L365.00 447.82 L367.00 448.38 L369.00 448.96 L371.00 449.55 L373.00 450.15 L375.00 450.76 L377.00 451.39 L379.00 452.03 L381.00 452.69 L383.00 453.37 L385.00 454.07 L387.00 454.79 L389.00 455.55 L391.00 456.34 L393.00 457.16 L395.00 458.00 L397.00 458.87 L399.00 459.76 L401.00 460.66 L403.00 461.58 L405.00 462.49 L407.00 463.41 L409.00 464.32 L411.00 465.23 L413.00 466.12 L415.00 467.00 L417.00 467.86 L419.00 468.72 L421.00 469.58 L423.00 470.44 L425.00 471.30 L427.00 472.17 L429.00 473.04 L431.00 473.92 L433.00 474.81 L435.00 475.72 L437.00 476.64 L439.00 477.57 L441.00 478.50 L443.00 479.45 L445.00 480.40 L447.00 481.35 L449.00 482.30 L451.00 483.25 L453.00 484.20 L455.00 485.15 L457.00 486.09 L459.00 487.03 L461.00 487.96 L463.00 488.87 L465.00 489.78 L467.00 490.68 L469.00 491.57 L471.00 492.46 L473.00 493.34 L475.00 494.22 L477.00 495.09 L479.00 495.96 L481.00 496.83 L483.00 497.70 L485.00 498.56 L487.00 499.42 L489.00 500.29 L491.00 501.15 L493.00 502.01 L495.00 502.88 L497.00 503.74 L499.00 504.61 L501.00 505.49 L503.00 506.38 L505.00 507.26 L507.00 508.15 L509.00 509.04 L511.00 509.92 L513.00 510.81 L515.00 511.68 L517.00 512.55 L519.00 513.41 L521.00 514.26 L523.00 515.09 L525.00 515.91 L527.00 516.71 L529.00 517.49 L531.00 518.26 L533.00 519.01 L535.00 519.75 L537.00 520.47 L539.00 521.19 L541.00 521.89 L543.00 522.59 L545.00 523.28 L547.00 523.98 L549.00 524.66 L551.00 525.35 L553.00 526.04 L555.00 526.74 L557.00 527.44 L559.00 528.14 L561.00 528.86 L563.00 529.58 L565.00 530.30 L567.00 531.02 L569.00 531.75 L571.00 532.46 L573.00 533.18 L575.00 533.88 L577.00 534.59 L579.00 535.31 L581.00 536.02 L583.00 536.74 L585.00 537.45 L587.00 538.16 L589.00 538.86 L591.00 539.55 L593.00 540.23 L595.00 540.90 L597.00 541.54 L599.00 542.17 L601.00 542.78 L603.00 543.37 L605.00 543.94 L607.00 544.50 L609.00 545.04 L611.00 545.57 L613.00 546.10 L615.00 546.61 L617.00 547.13 L619.00 547.64 L621.00 548.15 L623.00 548.66 L625.00 549.18 L627.00 549.71 L629.00 550.24 L631.00 550.78 L633.00 551.34 L635.00 551.90 L637.00 552.47 L639.00 553.04 L641.00 553.62 L643.00 554.20 L645.00 554.78 L647.00 555.36 L649.00 555.93 L651.00 556.50 L653.00 557.06 L655.00 557.61 L657.00 558.15 L659.00 558.68 L661.00 559.20 L663.00 559.70 L665.00 560.20 L667.00 560.69 L669.00 561.17 L671.00 561.64 L673.00 562.11 L675.00 562.57 L677.00 563.03 L679.00 563.48 L681.00 563.93 L683.00 564.38 L685.00 564.83 L687.00 565.28 L689.00 565.72 L691.00 566.17 L693.00 566.62 L695.00 567.07 L697.00 567.52 L699.00 567.98 L701.00 568.44 L703.00 568.91 L705.00 569.38 L707.00 569.85 L709.00 570.32 L711.00 570.79 L713.00 571.26 L715.00 571.72 L717.00 572.18 L719.00 572.63 L721.00 573.07 L723.00 573.50 L725.00 573.92 L727.00 574.33 L729.00 574.73 L731.00 575.11 L733.00 575.48 L735.00 575.84 L737.00 576.20 L739.00 576.54 L741.00 576.88 L743.00 577.21 L745.00 577.54 L747.00 577.86 L749.00 578.18 L751.00 578.50 L753.00 578.81 L755.00 579.13 L757.00 579.44 L759.00 579.75 L761.00 580.07 L763.00 580.39 L765.00 580.71 L767.00 581.04 L769.00 581.37 L771.00 581.70 L773.00 582.03 L775.00 582.36 L777.00 582.70 L779.00 583.03 L781.00 583.37 L783.00 583.70 L785.00 584.03 L785.10 584.05" fill="none" stroke="#ff0000" stroke-width="2.3" stroke-linejoin="round" clip-path="url(#c2)"/>
<rect x="197.50" y="417.39" width="10.4" height="10.4" fill="none" stroke="#ff0000" stroke-width="2.4"/>
<rect x="262.50" y="423.00" width="10.4" height="10.4" fill="none" stroke="#ff0000" stroke-width="2.4"/>
<rect x="355.80" y="441.52" width="10.4" height="10.4" fill="none" stroke="#ff0000" stroke-width="2.4"/>
<rect x="427.10" y="469.30" width="10.4" height="10.4" fill="none" stroke="#ff0000" stroke-width="2.4"/>
<rect x="523.10" y="512.02" width="10.4" height="10.4" fill="none" stroke="#ff0000" stroke-width="2.4"/>
<rect x="595.20" y="537.40" width="10.4" height="10.4" fill="none" stroke="#ff0000" stroke-width="2.4"/>
<rect x="691.70" y="562.30" width="10.4" height="10.4" fill="none" stroke="#ff0000" stroke-width="2.4"/>
<rect x="763.40" y="576.10" width="10.4" height="10.4" fill="none" stroke="#ff0000" stroke-width="2.4"/>
<path d="M111.00 766.20 L113.00 766.15 L115.00 766.10 L117.00 766.05 L119.00 766.00 L121.00 765.95 L123.00 765.89 L125.00 765.84 L127.00 765.78 L129.00 765.73 L131.00 765.67 L133.00 765.61 L135.00 765.55 L137.00 765.49 L139.00 765.43 L141.00 765.37 L143.00 765.30 L145.00 765.24 L147.00 765.18 L149.00 765.11 L151.00 765.05 L153.00 764.98 L155.00 764.91 L157.00 764.85 L159.00 764.78 L161.00 764.71 L163.00 764.64 L165.00 764.58 L167.00 764.51 L169.00 764.44 L171.00 764.37 L173.00 764.30 L175.00 764.22 L177.00 764.15 L179.00 764.08 L181.00 764.00 L183.00 763.92 L185.00 763.84 L187.00 763.76 L189.00 763.67 L191.00 763.58 L193.00 763.49 L195.00 763.40 L197.00 763.30 L199.00 763.20 L201.00 763.10 L203.00 762.99 L205.00 762.88 L207.00 762.76 L209.00 762.63 L211.00 762.49 L213.00 762.35 L215.00 762.20 L217.00 762.04 L219.00 761.88 L221.00 761.71 L223.00 761.54 L225.00 761.37 L227.00 761.20 L229.00 761.03 L231.00 760.85 L233.00 760.68 L235.00 760.50 L237.00 760.33 L239.00 760.16 L241.00 759.99 L243.00 759.82 L245.00 759.64 L247.00 759.47 L249.00 759.29 L251.00 759.11 L253.00 758.92 L255.00 758.73 L257.00 758.54 L259.00 758.34 L261.00 758.14 L263.00 757.93 L265.00 757.71 L267.00 757.48 L269.00 757.25 L271.00 757.00 L273.00 756.74 L275.00 756.47 L277.00 756.20 L279.00 755.91 L281.00 755.61 L283.00 755.31 L285.00 755.00 L287.00 754.68 L289.00 754.36 L291.00 754.03 L293.00 753.70 L295.00 753.37 L297.00 753.03 L299.00 752.68 L301.00 752.32 L303.00 751.95 L305.00 751.57 L307.00 751.18 L309.00 750.79 L311.00 750.39 L313.00 749.99 L315.00 749.58 L317.00 749.16 L319.00 748.75 L321.00 748.32 L323.00 747.90 L325.00 747.47 L327.00 747.04 L329.00 746.61 L331.00 746.17 L333.00 745.73 L335.00 745.29 L337.00 744.84 L339.00 744.38 L341.00 743.92 L343.00 743.46 L345.00 742.99 L347.00 742.51 L349.00 742.03 L351.00 741.54 L353.00 741.04 L355.00 740.54 L357.00 740.03 L359.00 739.51 L361.00 738.98 L363.00 738.45 L365.00 737.91 L367.00 737.36 L369.00 736.80 L371.00 736.24 L373.00 735.66 L375.00 735.06 L377.00 734.46 L379.00 733.84 L381.00 733.20 L383.00 732.54 L385.00 731.86 L387.00 731.17 L389.00 730.43 L391.00 729.66 L393.00 728.86 L395.00 728.03 L397.00 727.18 L399.00 726.31 L401.00 725.43 L403.00 724.54 L405.00 723.64 L407.00 722.74 L409.00 721.85 L411.00 720.96 L413.00 720.09 L415.00 719.23 L417.00 718.39 L419.00 717.55 L421.00 716.72 L423.00 715.88 L425.00 715.04 L427.00 714.20 L429.00 713.34 L431.00 712.47 L433.00 711.59 L435.00 710.68 L437.00 709.77 L439.00 708.84 L441.00 707.89 L443.00 706.94 L445.00 705.99 L447.00 705.02 L449.00 704.06 L451.00 703.09 L453.00 702.13 L455.00 701.17 L457.00 700.21 L459.00 699.26 L461.00 698.32 L463.00 697.39 L465.00 696.47 L467.00 695.57 L469.00 694.67 L471.00 693.77 L473.00 692.88 L475.00 691.99 L477.00 691.11 L479.00 690.23 L481.00 689.35 L483.00 688.48 L485.00 687.60 L487.00 686.73 L489.00 685.86 L491.00 684.99 L493.00 684.12 L495.00 683.24 L497.00 682.37 L499.00 681.49 L501.00 680.61 L503.00 679.72 L505.00 678.83 L507.00 677.94 L509.00 677.05 L511.00 676.16 L513.00 675.27 L515.00 674.39 L517.00 673.52 L519.00 672.65 L521.00 671.80 L523.00 670.95 L525.00 670.12 L527.00 669.30 L529.00 668.49 L531.00 667.70 L533.00 666.93 L535.00 666.16 L537.00 665.41 L539.00 664.67 L541.00 663.93 L543.00 663.20 L545.00 662.47 L547.00 661.75 L549.00 661.02 L551.00 660.30 L553.00 659.58 L555.00 658.85 L557.00 658.12 L559.00 657.38 L561.00 656.63 L563.00 655.88 L565.00 655.12 L567.00 654.37 L569.00 653.61 L571.00 652.86 L573.00 652.13 L575.00 651.40 L577.00 650.67 L579.00 649.95 L581.00 649.22 L583.00 648.49 L585.00 647.77 L587.00 647.06 L589.00 646.35 L591.00 645.66 L593.00 644.98 L595.00 644.31 L597.00 643.66 L599.00 643.03 L601.00 642.42 L603.00 641.83 L605.00 641.26 L607.00 640.70 L609.00 640.16 L611.00 639.62 L613.00 639.10 L615.00 638.58 L617.00 638.07 L619.00 637.56 L621.00 637.05 L623.00 636.53 L625.00 636.02 L627.00 635.49 L629.00 634.96 L631.00 634.42 L633.00 633.86 L635.00 633.30 L637.00 632.73 L639.00 632.16 L641.00 631.58 L643.00 631.00 L645.00 630.42 L647.00 629.84 L649.00 629.27 L651.00 628.70 L653.00 628.14 L655.00 627.59 L657.00 627.05 L659.00 626.52 L661.00 626.00 L663.00 625.50 L665.00 625.00 L667.00 624.51 L669.00 624.03 L671.00 623.56 L673.00 623.09 L675.00 622.63 L677.00 622.17 L679.00 621.72 L681.00 621.27 L683.00 620.82 L685.00 620.37 L687.00 619.92 L689.00 619.48 L691.00 619.03 L693.00 618.58 L695.00 618.13 L697.00 617.68 L699.00 617.22 L701.00 616.76 L703.00 616.29 L705.00 615.82 L707.00 615.35 L709.00 614.88 L711.00 614.41 L713.00 613.94 L715.00 613.48 L717.00 613.02 L719.00 612.57 L721.00 612.13 L723.00 611.70 L725.00 611.28 L727.00 610.87 L729.00 610.47 L731.00 610.09 L733.00 609.72 L735.00 609.36 L737.00 609.00 L739.00 608.66 L741.00 608.32 L743.00 607.99 L745.00 607.66 L747.00 607.34 L749.00 607.02 L751.00 606.70 L753.00 606.39 L755.00 606.07 L757.00 605.76 L759.00 605.45 L761.00 605.13 L763.00 604.81 L765.00 604.49 L767.00 604.16 L769.00 603.83 L771.00 603.50 L773.00 603.17 L775.00 602.84 L777.00 602.50 L779.00 602.17 L781.00 601.83 L783.00 601.50 L785.00 601.17 L785.10 601.15" fill="none" stroke="#ffa500" stroke-width="2.3" stroke-linejoin="round" clip-path="url(#c2)"/>
<circle cx="202.70" cy="763.01" r="5.0" fill="none" stroke="#ffa500" stroke-width="2.4"/>
<circle cx="267.70" cy="757.40" r="5.0" fill="none" stroke="#ffa500" stroke-width="2.4"/>
<circle cx="361.00" cy="738.98" r="5.0" fill="none" stroke="#ffa500" stroke-width="2.4"/>
<circle cx="432.30" cy="711.90" r="5.0" fill="none" stroke="#ffa500" stroke-width="2.4"/>
<circle cx="528.30" cy="668.77" r="5.0" fill="none" stroke="#ffa500" stroke-width="2.4"/>
<circle cx="600.40" cy="642.60" r="5.0" fill="none" stroke="#ffa500" stroke-width="2.4"/>
<circle cx="696.90" cy="617.70" r="5.0" fill="none" stroke="#ffa500" stroke-width="2.4"/>
<circle cx="768.60" cy="603.90" r="5.0" fill="none" stroke="#ffa500" stroke-width="2.4"/>
<path d="M111.00 418.80 L113.00 418.80 L115.00 418.80 L117.00 418.80 L119.00 418.81 L121.00 418.81 L123.00 418.82 L125.00 418.82 L127.00 418.83 L129.00 418.84 L131.00 418.85 L133.00 418.86 L135.00 418.87 L137.00 418.88 L139.00 418.89 L141.00 418.91 L143.00 418.92 L145.00 418.93 L147.00 418.95 L149.00 418.97 L151.00 418.98 L153.00 419.00 L155.00 419.02 L157.00 419.04 L159.00 419.06 L161.00 419.08 L163.00 419.10 L165.00 419.12 L167.00 419.14 L169.00 419.16 L171.00 419.18 L173.00 419.21 L175.00 419.23 L177.00 419.26 L179.00 419.28 L181.00 419.30 L183.00 419.33 L185.00 419.36 L187.00 419.38 L189.00 419.41 L191.00 419.44 L193.00 419.46 L195.00 419.49 L197.00 419.52 L199.00 419.54 L201.00 419.57 L203.00 419.60 L205.00 419.63 L207.00 419.66 L209.00 419.70 L211.00 419.74 L213.00 419.78 L215.00 419.82 L217.00 419.87 L219.00 419.92 L221.00 419.97 L223.00 420.02 L225.00 420.07 L227.00 420.13 L229.00 420.19 L231.00 420.25 L233.00 420.32 L235.00 420.38 L237.00 420.45 L239.00 420.52 L241.00 420.59 L243.00 420.67 L245.00 420.74 L247.00 420.82 L249.00 420.90 L251.00 420.98 L253.00 421.06 L255.00 421.15 L257.00 421.23 L259.00 421.32 L261.00 421.41 L263.00 421.50 L265.00 421.60 L267.00 421.70 L269.00 421.82 L271.00 421.95 L273.00 422.08 L275.00 422.23 L277.00 422.37 L279.00 422.52 L281.00 422.68 L283.00 422.84 L285.00 423.00 L287.00 423.15 L289.00 423.31 L291.00 423.47 L293.00 423.62 L295.00 423.77 L297.00 423.92 L299.00 424.06 L301.00 424.20 L303.00 424.33 L305.00 424.47 L307.00 424.61 L309.00 424.75 L311.00 424.88 L313.00 425.03 L315.00 425.17 L317.00 425.32 L319.00 425.47 L321.00 425.63 L323.00 425.79 L325.00 425.97 L327.00 426.14 L329.00 426.33 L331.00 426.53 L333.00 426.73 L335.00 426.95 L337.00 427.17 L339.00 427.39 L341.00 427.63 L343.00 427.87 L345.00 428.12 L347.00 428.38 L349.00 428.64 L351.00 428.90 L353.00 429.18 L355.00 429.45 L357.00 429.74 L359.00 430.02 L361.00 430.31 L363.00 430.61 L365.00 430.91 L367.00 431.21 L369.00 431.52 L371.00 431.84 L373.00 432.17 L375.00 432.50 L377.00 432.84 L379.00 433.20 L381.00 433.56 L383.00 433.94 L385.00 434.32 L387.00 434.73 L389.00 435.14 L391.00 435.58 L393.00 436.02 L395.00 436.49 L397.00 437.01 L399.00 437.57 L401.00 438.17 L403.00 438.80 L405.00 439.45 L407.00 440.11 L409.00 440.77 L411.00 441.43 L413.00 442.11 L415.00 442.80 L417.00 443.51 L419.00 444.23 L421.00 444.98 L423.00 445.74 L425.00 446.52 L427.00 447.32 L429.00 448.15 L431.00 449.00 L433.00 449.87 L435.00 450.77 L437.00 451.69 L439.00 452.63 L441.00 453.59 L443.00 454.58 L445.00 455.58 L447.00 456.62 L449.00 457.69 L451.00 458.79 L453.00 459.92 L455.00 461.10 L457.00 462.34 L459.00 463.66 L461.00 465.05 L463.00 466.48 L465.00 467.91 L467.00 469.31 L469.00 470.67 L471.00 471.98 L473.00 473.28 L475.00 474.57 L477.00 475.85 L479.00 477.13 L481.00 478.41 L483.00 479.69 L485.00 480.98 L487.00 482.26 L489.00 483.54 L491.00 484.82 L493.00 486.10 L495.00 487.38 L497.00 488.66 L499.00 489.95 L501.00 491.24 L503.00 492.53 L505.00 493.82 L507.00 495.12 L509.00 496.41 L511.00 497.70 L513.00 499.00 L515.00 500.32 L517.00 501.63 L519.00 502.94 L521.00 504.24 L523.00 505.51 L525.00 506.74 L527.00 507.94 L529.00 509.11 L531.00 510.26 L533.00 511.40 L535.00 512.51 L537.00 513.61 L539.00 514.69 L541.00 515.76 L543.00 516.80 L545.00 517.82 L547.00 518.84 L549.00 519.84 L551.00 520.84 L553.00 521.85 L555.00 522.86 L557.00 523.89 L559.00 524.92 L561.00 525.95 L563.00 526.97 L565.00 527.99 L567.00 528.99 L569.00 529.97 L571.00 530.93 L573.00 531.85 L575.00 532.74 L577.00 533.61 L579.00 534.47 L581.00 535.31 L583.00 536.14 L585.00 536.95 L587.00 537.75 L589.00 538.54 L591.00 539.31 L593.00 540.07 L595.00 540.82 L597.00 541.56 L599.00 542.29 L601.00 543.02 L603.00 543.73 L605.00 544.43 L607.00 545.12 L609.00 545.80 L611.00 546.47 L613.00 547.13 L615.00 547.79 L617.00 548.44 L619.00 549.08 L621.00 549.71 L623.00 550.34 L625.00 550.96 L627.00 551.57 L629.00 552.19 L631.00 552.79 L633.00 553.39 L635.00 553.99 L637.00 554.58 L639.00 555.17 L641.00 555.75 L643.00 556.33 L645.00 556.90 L647.00 557.47 L649.00 558.02 L651.00 558.58 L653.00 559.12 L655.00 559.65 L657.00 560.18 L659.00 560.69 L661.00 561.20 L663.00 561.70 L665.00 562.19 L667.00 562.66 L669.00 563.14 L671.00 563.60 L673.00 564.06 L675.00 564.51 L677.00 564.96 L679.00 565.41 L681.00 565.85 L683.00 566.28 L685.00 566.72 L687.00 567.15 L689.00 567.59 L691.00 568.02 L693.00 568.45 L695.00 568.89 L697.00 569.32 L699.00 569.76 L701.00 570.20 L703.00 570.65 L705.00 571.09 L707.00 571.53 L709.00 571.97 L711.00 572.41 L713.00 572.85 L715.00 573.29 L717.00 573.71 L719.00 574.14 L721.00 574.55 L723.00 574.96 L725.00 575.36 L727.00 575.75 L729.00 576.13 L731.00 576.50 L733.00 576.86 L735.00 577.22 L737.00 577.57 L739.00 577.91 L741.00 578.24 L743.00 578.57 L745.00 578.90 L747.00 579.22 L749.00 579.54 L751.00 579.86 L753.00 580.17 L755.00 580.48 L757.00 580.79 L759.00 581.10 L761.00 581.41 L763.00 581.72 L765.00 582.03 L767.00 582.35 L769.00 582.66 L771.00 582.98 L773.00 583.29 L775.00 583.60 L777.00 583.91 L779.00 584.22 L781.00 584.53 L783.00 584.83 L785.00 585.14 L785.10 585.15" fill="none" stroke="#ff0000" stroke-width="3.6" stroke-dasharray="6.9 9.63" stroke-dashoffset="0.0" clip-path="url(#c2)"/>
<path d="M111.00 766.54 L113.00 766.54 L115.00 766.54 L117.00 766.54 L119.00 766.53 L121.00 766.53 L123.00 766.53 L125.00 766.52 L127.00 766.52 L129.00 766.51 L131.00 766.50 L133.00 766.49 L135.00 766.49 L137.00 766.48 L139.00 766.47 L141.00 766.46 L143.00 766.44 L145.00 766.43 L147.00 766.42 L149.00 766.41 L151.00 766.39 L153.00 766.38 L155.00 766.37 L157.00 766.35 L159.00 766.33 L161.00 766.32 L163.00 766.30 L165.00 766.28 L167.00 766.27 L169.00 766.25 L171.00 766.23 L173.00 766.21 L175.00 766.19 L177.00 766.17 L179.00 766.15 L181.00 766.13 L183.00 766.11 L185.00 766.09 L187.00 766.07 L189.00 766.04 L191.00 766.02 L193.00 766.00 L195.00 765.97 L197.00 765.95 L199.00 765.93 L201.00 765.90 L203.00 765.88 L205.00 765.85 L207.00 765.82 L209.00 765.79 L211.00 765.75 L213.00 765.72 L215.00 765.67 L217.00 765.63 L219.00 765.58 L221.00 765.53 L223.00 765.48 L225.00 765.42 L227.00 765.37 L229.00 765.31 L231.00 765.24 L233.00 765.18 L235.00 765.11 L237.00 765.04 L239.00 764.97 L241.00 764.90 L243.00 764.82 L245.00 764.74 L247.00 764.67 L249.00 764.59 L251.00 764.50 L253.00 764.42 L255.00 764.33 L257.00 764.25 L259.00 764.16 L261.00 764.07 L263.00 763.98 L265.00 763.88 L267.00 763.77 L269.00 763.66 L271.00 763.53 L273.00 763.39 L275.00 763.25 L277.00 763.11 L279.00 762.95 L281.00 762.80 L283.00 762.64 L285.00 762.48 L287.00 762.32 L289.00 762.17 L291.00 762.01 L293.00 761.86 L295.00 761.71 L297.00 761.57 L299.00 761.43 L301.00 761.29 L303.00 761.15 L305.00 761.02 L307.00 760.88 L309.00 760.75 L311.00 760.61 L313.00 760.47 L315.00 760.33 L317.00 760.18 L319.00 760.03 L321.00 759.87 L323.00 759.71 L325.00 759.54 L327.00 759.37 L329.00 759.18 L331.00 758.99 L333.00 758.78 L335.00 758.57 L337.00 758.35 L339.00 758.13 L341.00 757.89 L343.00 757.65 L345.00 757.40 L347.00 757.15 L349.00 756.89 L351.00 756.62 L353.00 756.35 L355.00 756.08 L357.00 755.80 L359.00 755.52 L361.00 755.24 L363.00 754.95 L365.00 754.66 L367.00 754.36 L369.00 754.06 L371.00 753.76 L373.00 753.45 L375.00 753.13 L377.00 752.80 L379.00 752.46 L381.00 752.11 L383.00 751.75 L385.00 751.38 L387.00 751.00 L389.00 750.60 L391.00 750.18 L393.00 749.75 L395.00 749.29 L397.00 748.79 L399.00 748.24 L401.00 747.66 L403.00 747.04 L405.00 746.40 L407.00 745.76 L409.00 745.11 L411.00 744.47 L413.00 743.80 L415.00 743.13 L417.00 742.43 L419.00 741.72 L421.00 740.99 L423.00 740.24 L425.00 739.47 L427.00 738.68 L429.00 737.86 L431.00 737.01 L433.00 736.14 L435.00 735.25 L437.00 734.33 L439.00 733.39 L441.00 732.42 L443.00 731.43 L445.00 730.42 L447.00 729.38 L449.00 728.31 L451.00 727.20 L453.00 726.05 L455.00 724.87 L457.00 723.63 L459.00 722.29 L461.00 720.90 L463.00 719.47 L465.00 718.03 L467.00 716.62 L469.00 715.26 L471.00 713.94 L473.00 712.63 L475.00 711.33 L477.00 710.05 L479.00 708.76 L481.00 707.48 L483.00 706.19 L485.00 704.90 L487.00 703.61 L489.00 702.33 L491.00 701.04 L493.00 699.75 L495.00 698.47 L497.00 697.17 L499.00 695.88 L501.00 694.59 L503.00 693.29 L505.00 691.99 L507.00 690.70 L509.00 689.40 L511.00 688.10 L513.00 686.80 L515.00 685.48 L517.00 684.16 L519.00 682.85 L521.00 681.55 L523.00 680.27 L525.00 679.03 L527.00 677.82 L529.00 676.63 L531.00 675.46 L533.00 674.31 L535.00 673.17 L537.00 672.05 L539.00 670.95 L541.00 669.86 L543.00 668.80 L545.00 667.75 L547.00 666.72 L549.00 665.69 L551.00 664.67 L553.00 663.64 L555.00 662.61 L557.00 661.56 L559.00 660.50 L561.00 659.45 L563.00 658.40 L565.00 657.36 L567.00 656.33 L569.00 655.33 L571.00 654.36 L573.00 653.42 L575.00 652.52 L577.00 651.63 L579.00 650.77 L581.00 649.92 L583.00 649.09 L585.00 648.27 L587.00 647.47 L589.00 646.68 L591.00 645.90 L593.00 645.14 L595.00 644.38 L597.00 643.64 L599.00 642.91 L601.00 642.18 L603.00 641.47 L605.00 640.77 L607.00 640.08 L609.00 639.40 L611.00 638.73 L613.00 638.06 L615.00 637.41 L617.00 636.76 L619.00 636.12 L621.00 635.49 L623.00 634.86 L625.00 634.24 L627.00 633.62 L629.00 633.01 L631.00 632.41 L633.00 631.81 L635.00 631.21 L637.00 630.62 L639.00 630.03 L641.00 629.45 L643.00 628.87 L645.00 628.30 L647.00 627.73 L649.00 627.18 L651.00 626.62 L653.00 626.08 L655.00 625.55 L657.00 625.02 L659.00 624.51 L661.00 624.00 L663.00 623.50 L665.00 623.01 L667.00 622.54 L669.00 622.06 L671.00 621.60 L673.00 621.14 L675.00 620.69 L677.00 620.24 L679.00 619.79 L681.00 619.35 L683.00 618.92 L685.00 618.48 L687.00 618.05 L689.00 617.61 L691.00 617.18 L693.00 616.75 L695.00 616.31 L697.00 615.88 L699.00 615.44 L701.00 615.00 L703.00 614.55 L705.00 614.11 L707.00 613.67 L709.00 613.23 L711.00 612.79 L713.00 612.35 L715.00 611.91 L717.00 611.49 L719.00 611.06 L721.00 610.65 L723.00 610.24 L725.00 609.84 L727.00 609.45 L729.00 609.07 L731.00 608.70 L733.00 608.34 L735.00 607.98 L737.00 607.63 L739.00 607.29 L741.00 606.96 L743.00 606.63 L745.00 606.30 L747.00 605.98 L749.00 605.66 L751.00 605.34 L753.00 605.03 L755.00 604.72 L757.00 604.41 L759.00 604.10 L761.00 603.79 L763.00 603.48 L765.00 603.17 L767.00 602.85 L769.00 602.54 L771.00 602.22 L773.00 601.91 L775.00 601.60 L777.00 601.29 L779.00 600.98 L781.00 600.67 L783.00 600.37 L785.00 600.06 L785.10 600.05" fill="none" stroke="#ffa500" stroke-width="3.6" stroke-dasharray="6.9 9.63" stroke-dashoffset="0.0" clip-path="url(#c2)"/>
</g>
<g id="labels">
<text x="96.50" y="396.00" text-anchor="end">0</text>
<text x="96.50" y="306.84" text-anchor="end">10000</text>
<text x="96.50" y="217.67" text-anchor="end">20000</text>
<text x="96.50" y="128.51" text-anchor="end">30000</text>
<text x="96.50" y="39.35" text-anchor="end">40000</text>
<text x="96.50" y="775.20" text-anchor="end">0</text>
<text x="96.50" y="705.50" text-anchor="end">0.2</text>
<text x="96.50" y="635.80" text-anchor="end">0.4</text>
<text x="96.50" y="566.10" text-anchor="end">0.6</text>
<text x="96.50" y="496.40" text-anchor="end">0.8</text>
<text x="96.50" y="426.70" text-anchor="end">1</text>
<text x="112.00" y="819.70" text-anchor="middle">10<tspan font-size="19.20" dy="-11.5">-2</tspan></text>
<text x="280.82" y="819.70" text-anchor="middle">10<tspan font-size="19.20" dy="-11.5">-1</tspan></text>
<text x="449.05" y="819.70" text-anchor="middle">10<tspan font-size="19.20" dy="-11.5">0</tspan></text>
<text x="616.88" y="819.70" text-anchor="middle">10<tspan font-size="19.20" dy="-11.5">1</tspan></text>
<text x="788.10" y="819.70" text-anchor="middle">10<tspan font-size="19.20" dy="-11.5">2</tspan></text>
<text x="447.50" y="852.70" text-anchor="middle">time [<tspan font-family="Liberation Serif" font-weight="normal">µ</tspan>s]</text>
<text transform="translate(21.8 200.7) rotate(-90)" text-anchor="middle">temperature [K]</text>
<text transform="translate(21.8 593) rotate(-90)" text-anchor="middle">mole fractions [-]</text>
</g>
<g id="legend">
<text x="495.00" y="36.80" text-anchor="end">DMS: T<tspan font-size="19.20" dy="7.20">t</tspan></text>
<path d="M509.50 31.10 h65.6" stroke="#000000" stroke-width="2.3"/>
<path d="M542.30 25.20 L547.60 34.20 L537.00 34.20 Z" fill="none" stroke="#000000" stroke-width="2.4" stroke-linejoin="miter"/>
<text x="495.00" y="67.00" text-anchor="end">T<tspan font-size="19.20" dy="7.20">t-r</tspan></text>
<path d="M509.50 61.40 h65.6" stroke="#a0a0a0" stroke-width="2.3"/>
<path d="M542.30 67.30 L547.60 58.30 L537.00 58.30 Z" fill="none" stroke="#a0a0a0" stroke-width="2.4" stroke-linejoin="miter"/>
<text x="495.00" y="94.80" text-anchor="end">T<tspan font-size="19.20" dy="7.20" dx="1.30">r, N</tspan><tspan font-size="15.36" dy="7.00">2</tspan></text>
<path d="M509.50 91.70 h65.6" stroke="#0000ff" stroke-width="2.3"/>
<circle cx="542.30" cy="91.70" r="5.0" fill="none" stroke="#0000ff" stroke-width="2.4"/>
<text x="495.00" y="124.90" text-anchor="end">T<tspan font-size="19.20" dy="7.20" dx="1.80">v, N</tspan><tspan font-size="15.36" dy="7.00">2</tspan></text>
<path d="M509.50 121.90 h65.6" stroke="#ff0000" stroke-width="2.3"/>
<rect x="537.10" y="116.70" width="10.4" height="10.4" fill="none" stroke="#ff0000" stroke-width="2.4"/>
<text x="676.00" y="37.60" text-anchor="end">CFD: T</text>
<path d="M690.80 31.10 h65.3" stroke="#a0a0a0" stroke-width="3.6" stroke-dasharray="6.9 9.63"/>
<text x="676.00" y="65.80" text-anchor="end">T<tspan font-size="19.20" dy="7.20">v</tspan></text>
<path d="M690.80 61.30 h65.3" stroke="#ff0000" stroke-width="3.6" stroke-dasharray="6.9 9.63"/>
<text x="212.80" y="552.80" text-anchor="end">DMS: N<tspan font-size="19.20" dy="7.20">2</tspan></text>
<path d="M227.30 547.70 h65.6" stroke="#ff0000" stroke-width="2.3"/>
<rect x="254.90" y="542.50" width="10.4" height="10.4" fill="none" stroke="#ff0000" stroke-width="2.4"/>
<text x="212.80" y="585.10" text-anchor="end">N</text>
<path d="M227.30 577.80 h65.6" stroke="#ffa500" stroke-width="2.3"/>
<circle cx="260.10" cy="577.80" r="5.0" fill="none" stroke="#ffa500" stroke-width="2.4"/>
<text x="212.80" y="613.30" text-anchor="end">CFD: N<tspan font-size="19.20" dy="7.20">2</tspan></text>
<path d="M227.30 608.00 h65.3" stroke="#ff0000" stroke-width="3.6" stroke-dasharray="6.9 9.63"/>
<text x="212.80" y="645.30" text-anchor="end">N</text>
<path d="M227.30 638.00 h65.3" stroke="#ffa500" stroke-width="3.6" stroke-dasharray="6.9 9.63"/>
</g>
</svg></body></html>
